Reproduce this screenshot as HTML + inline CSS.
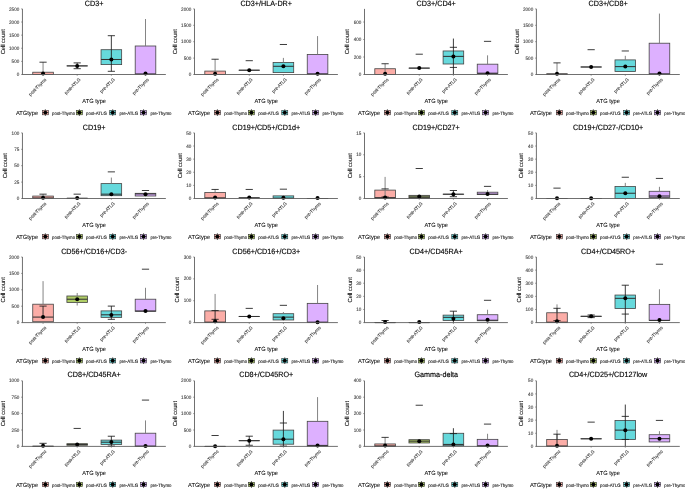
<!DOCTYPE html>
<html><head><meta charset="utf-8"><style>
html,body{margin:0;padding:0;background:#fff;width:685px;height:489px;overflow:hidden;}
svg{display:block;font-family:"Liberation Sans", sans-serif;will-change:transform;}
</style></head><body>
<svg width="685" height="489" viewBox="0 0 685 489" font-family='"Liberation Sans", sans-serif' text-rendering="geometricPrecision"><g><text transform="translate(94.15,5.55) scale(0.9434,1)" font-size="7.63" text-anchor="middle" fill="#000" stroke="#000" stroke-width="0.15">CD3+</text><text transform="translate(5.05,41.7) rotate(-90) scale(0.9615,1)" font-size="5.93" text-anchor="middle" fill="#000" stroke="#000" stroke-width="0.06">Cell count</text><text transform="translate(19.25,76.1) scale(0.9174,1)" font-size="5.01" text-anchor="end" fill="#3a3a3a" stroke="#3a3a3a" stroke-width="0.1">0</text><line x1="21.15" y1="74.5" x2="22.45" y2="74.5" stroke="#333" stroke-width="0.5"/><text transform="translate(19.25,62.98) scale(0.9174,1)" font-size="5.01" text-anchor="end" fill="#3a3a3a" stroke="#3a3a3a" stroke-width="0.1">500</text><line x1="21.15" y1="61.38" x2="22.45" y2="61.38" stroke="#333" stroke-width="0.5"/><text transform="translate(19.25,49.86) scale(0.9174,1)" font-size="5.01" text-anchor="end" fill="#3a3a3a" stroke="#3a3a3a" stroke-width="0.1">1000</text><line x1="21.15" y1="48.26" x2="22.45" y2="48.26" stroke="#333" stroke-width="0.5"/><text transform="translate(19.25,36.74) scale(0.9174,1)" font-size="5.01" text-anchor="end" fill="#3a3a3a" stroke="#3a3a3a" stroke-width="0.1">1500</text><line x1="21.15" y1="35.14" x2="22.45" y2="35.14" stroke="#333" stroke-width="0.5"/><text transform="translate(19.25,23.62) scale(0.9174,1)" font-size="5.01" text-anchor="end" fill="#3a3a3a" stroke="#3a3a3a" stroke-width="0.1">2000</text><line x1="21.15" y1="22.02" x2="22.45" y2="22.02" stroke="#333" stroke-width="0.5"/><text transform="translate(19.25,10.5) scale(0.9174,1)" font-size="5.01" text-anchor="end" fill="#3a3a3a" stroke="#3a3a3a" stroke-width="0.1">2500</text><line x1="21.15" y1="8.9" x2="22.45" y2="8.9" stroke="#333" stroke-width="0.5"/><rect x="32.75" y="72.22" width="20.6" height="2.28" fill="#FBADA7" stroke="#444" stroke-width="0.8"/><line x1="32.75" y1="74.5" x2="53.35" y2="74.5" stroke="#333" stroke-width="1.05"/><line x1="43.05" y1="73.61" x2="43.05" y2="62.19" stroke="#777" stroke-width="0.9"/><line x1="39.45" y1="62.19" x2="46.65" y2="62.19" stroke="#1a1a1a" stroke-width="0.85"/><circle cx="43.05" cy="73.61" r="2.0" fill="#000"/><line x1="43.05" y1="74.5" x2="43.05" y2="75.8" stroke="#333" stroke-width="0.5"/><text transform="translate(46.85,79.9) rotate(-45) scale(0.9259,1)" font-size="4.75" text-anchor="end" fill="#3a3a3a" stroke="#3a3a3a" stroke-width="0.1">post-Thymo</text><rect x="66.9" y="65.89" width="20.6" height="0.01" fill="#B0CE66" stroke="#444" stroke-width="0.8"/><line x1="66.9" y1="65.89" x2="87.5" y2="65.89" stroke="#333" stroke-width="1.05"/><line x1="77.2" y1="68.7" x2="77.2" y2="62.9" stroke="#1a1a1a" stroke-width="0.85"/><line x1="73.6" y1="62.9" x2="80.8" y2="62.9" stroke="#1a1a1a" stroke-width="0.85"/><line x1="73.6" y1="68.7" x2="80.8" y2="68.7" stroke="#1a1a1a" stroke-width="0.85"/><circle cx="77.2" cy="65.95" r="2.0" fill="#000"/><line x1="77.2" y1="74.5" x2="77.2" y2="75.8" stroke="#333" stroke-width="0.5"/><text transform="translate(81,79.9) rotate(-45) scale(0.9259,1)" font-size="4.75" text-anchor="end" fill="#3a3a3a" stroke="#3a3a3a" stroke-width="0.1">post-ATLG</text><rect x="101.05" y="49.7" width="20.6" height="14.9" fill="#66D9DC" stroke="#444" stroke-width="0.8"/><line x1="101.05" y1="59.49" x2="121.65" y2="59.49" stroke="#333" stroke-width="1.05"/><line x1="111.35" y1="71.3" x2="111.35" y2="35.69" stroke="#1a1a1a" stroke-width="0.85"/><line x1="107.75" y1="35.69" x2="114.95" y2="35.69" stroke="#1a1a1a" stroke-width="0.85"/><line x1="107.75" y1="71.3" x2="114.95" y2="71.3" stroke="#1a1a1a" stroke-width="0.85"/><circle cx="111.35" cy="59.49" r="2.0" fill="#000"/><line x1="111.35" y1="74.5" x2="111.35" y2="75.8" stroke="#333" stroke-width="0.5"/><text transform="translate(115.15,79.9) rotate(-45) scale(0.9259,1)" font-size="4.75" text-anchor="end" fill="#3a3a3a" stroke="#3a3a3a" stroke-width="0.1">pre-ATLG</text><rect x="135.2" y="46" width="20.6" height="28.29" fill="#DDB0FF" stroke="#444" stroke-width="0.8"/><line x1="135.2" y1="73.98" x2="155.8" y2="73.98" stroke="#333" stroke-width="1.05"/><line x1="145.5" y1="46" x2="145.5" y2="19" stroke="#777" stroke-width="0.9"/><circle cx="145.5" cy="73.5" r="2.0" fill="#000"/><line x1="145.5" y1="74.5" x2="145.5" y2="75.8" stroke="#333" stroke-width="0.5"/><text transform="translate(149.3,79.9) rotate(-45) scale(0.9259,1)" font-size="4.75" text-anchor="end" fill="#3a3a3a" stroke="#3a3a3a" stroke-width="0.1">pre-Thymo</text><line x1="22.45" y1="8.9" x2="22.45" y2="74.5" stroke="#606060" stroke-width="0.9"/><line x1="22" y1="74.5" x2="165.85" y2="74.5" stroke="#606060" stroke-width="0.9"/><text transform="translate(94.15,103.1) scale(0.9615,1)" font-size="5.93" text-anchor="middle" fill="#000" stroke="#000" stroke-width="0.06">ATG type</text><text transform="translate(16,114.6) scale(0.9615,1)" font-size="5.93" fill="#000" stroke="#000" stroke-width="0.06">ATGtype</text><line x1="45.35" y1="109.3" x2="45.35" y2="115.9" stroke="#222" stroke-width="0.8"/><rect x="42.35" y="110.4" width="6" height="4.4" fill="#FBADA7" stroke="#333" stroke-width="0.6"/><line x1="42.35" y1="112.6" x2="48.35" y2="112.6" stroke="#222" stroke-width="0.8"/><circle cx="45.35" cy="112.6" r="1.9" fill="#000"/><text transform="translate(52.1,114.6) scale(0.9091,1)" font-size="4.79" fill="#111" stroke="#111" stroke-width="0.1">post-Thymo</text><line x1="79.4" y1="109.3" x2="79.4" y2="115.9" stroke="#222" stroke-width="0.8"/><rect x="76.4" y="110.4" width="6" height="4.4" fill="#B0CE66" stroke="#333" stroke-width="0.6"/><line x1="76.4" y1="112.6" x2="82.4" y2="112.6" stroke="#222" stroke-width="0.8"/><circle cx="79.4" cy="112.6" r="1.9" fill="#000"/><text transform="translate(86.1,114.6) scale(0.9091,1)" font-size="4.79" fill="#111" stroke="#111" stroke-width="0.1">post-ATLG</text><line x1="112.7" y1="109.3" x2="112.7" y2="115.9" stroke="#222" stroke-width="0.8"/><rect x="109.7" y="110.4" width="6" height="4.4" fill="#66D9DC" stroke="#333" stroke-width="0.6"/><line x1="109.7" y1="112.6" x2="115.7" y2="112.6" stroke="#222" stroke-width="0.8"/><circle cx="112.7" cy="112.6" r="1.9" fill="#000"/><text transform="translate(119.4,114.6) scale(0.9091,1)" font-size="4.79" fill="#111" stroke="#111" stroke-width="0.1">pre-ATLG</text><line x1="143.55" y1="109.3" x2="143.55" y2="115.9" stroke="#222" stroke-width="0.8"/><rect x="140.55" y="110.4" width="6" height="4.4" fill="#DDB0FF" stroke="#333" stroke-width="0.6"/><line x1="140.55" y1="112.6" x2="146.55" y2="112.6" stroke="#222" stroke-width="0.8"/><circle cx="143.55" cy="112.6" r="1.9" fill="#000"/><text transform="translate(150.4,114.6) scale(0.9091,1)" font-size="4.79" fill="#111" stroke="#111" stroke-width="0.1">pre-Thymo</text></g>
<g><text transform="translate(266.2,5.55) scale(0.9434,1)" font-size="7.63" text-anchor="middle" fill="#000" stroke="#000" stroke-width="0.15">CD3+/HLA-DR+</text><text transform="translate(177.1,41.7) rotate(-90) scale(0.9615,1)" font-size="5.93" text-anchor="middle" fill="#000" stroke="#000" stroke-width="0.06">Cell count</text><text transform="translate(191.3,76.1) scale(0.9174,1)" font-size="5.01" text-anchor="end" fill="#3a3a3a" stroke="#3a3a3a" stroke-width="0.1">0</text><line x1="193.2" y1="74.5" x2="194.5" y2="74.5" stroke="#333" stroke-width="0.5"/><text transform="translate(191.3,59.7) scale(0.9174,1)" font-size="5.01" text-anchor="end" fill="#3a3a3a" stroke="#3a3a3a" stroke-width="0.1">500</text><line x1="193.2" y1="58.1" x2="194.5" y2="58.1" stroke="#333" stroke-width="0.5"/><text transform="translate(191.3,43.3) scale(0.9174,1)" font-size="5.01" text-anchor="end" fill="#3a3a3a" stroke="#3a3a3a" stroke-width="0.1">1000</text><line x1="193.2" y1="41.7" x2="194.5" y2="41.7" stroke="#333" stroke-width="0.5"/><text transform="translate(191.3,26.9) scale(0.9174,1)" font-size="5.01" text-anchor="end" fill="#3a3a3a" stroke="#3a3a3a" stroke-width="0.1">1500</text><line x1="193.2" y1="25.3" x2="194.5" y2="25.3" stroke="#333" stroke-width="0.5"/><text transform="translate(191.3,10.5) scale(0.9174,1)" font-size="5.01" text-anchor="end" fill="#3a3a3a" stroke="#3a3a3a" stroke-width="0.1">2000</text><line x1="193.2" y1="8.9" x2="194.5" y2="8.9" stroke="#333" stroke-width="0.5"/><rect x="204.8" y="71.09" width="20.6" height="3.41" fill="#FBADA7" stroke="#444" stroke-width="0.8"/><line x1="204.8" y1="74.5" x2="225.4" y2="74.5" stroke="#333" stroke-width="1.05"/><line x1="215.1" y1="73.71" x2="215.1" y2="59.22" stroke="#777" stroke-width="0.9"/><line x1="211.5" y1="59.22" x2="218.7" y2="59.22" stroke="#1a1a1a" stroke-width="0.85"/><circle cx="215.1" cy="73.71" r="2.0" fill="#000"/><line x1="215.1" y1="74.5" x2="215.1" y2="75.8" stroke="#333" stroke-width="0.5"/><text transform="translate(218.9,79.9) rotate(-45) scale(0.9259,1)" font-size="4.75" text-anchor="end" fill="#3a3a3a" stroke="#3a3a3a" stroke-width="0.1">post-Thymo</text><rect x="238.95" y="70.2" width="20.6" height="0.01" fill="#B0CE66" stroke="#444" stroke-width="0.8"/><line x1="238.95" y1="70.2" x2="259.55" y2="70.2" stroke="#333" stroke-width="1.05"/><line x1="245.65" y1="60.69" x2="252.85" y2="60.69" stroke="#1a1a1a" stroke-width="0.85"/><circle cx="249.25" cy="70.2" r="2.0" fill="#000"/><line x1="249.25" y1="74.5" x2="249.25" y2="75.8" stroke="#333" stroke-width="0.5"/><text transform="translate(253.05,79.9) rotate(-45) scale(0.9259,1)" font-size="4.75" text-anchor="end" fill="#3a3a3a" stroke="#3a3a3a" stroke-width="0.1">post-ATLG</text><rect x="273.1" y="62.5" width="20.6" height="10.1" fill="#66D9DC" stroke="#444" stroke-width="0.8"/><line x1="273.1" y1="66.3" x2="293.7" y2="66.3" stroke="#333" stroke-width="1.05"/><line x1="283.4" y1="62.5" x2="283.4" y2="57.9" stroke="#777" stroke-width="0.9"/><line x1="279.8" y1="44.49" x2="287" y2="44.49" stroke="#1a1a1a" stroke-width="0.85"/><circle cx="283.4" cy="66.3" r="2.0" fill="#000"/><line x1="283.4" y1="74.5" x2="283.4" y2="75.8" stroke="#333" stroke-width="0.5"/><text transform="translate(287.2,79.9) rotate(-45) scale(0.9259,1)" font-size="4.75" text-anchor="end" fill="#3a3a3a" stroke="#3a3a3a" stroke-width="0.1">pre-ATLG</text><rect x="307.25" y="54.49" width="20.6" height="19.84" fill="#DDB0FF" stroke="#444" stroke-width="0.8"/><line x1="307.25" y1="73.84" x2="327.85" y2="73.84" stroke="#333" stroke-width="1.05"/><line x1="317.55" y1="54.49" x2="317.55" y2="36.09" stroke="#777" stroke-width="0.9"/><circle cx="317.55" cy="73.71" r="2.0" fill="#000"/><line x1="317.55" y1="74.5" x2="317.55" y2="75.8" stroke="#333" stroke-width="0.5"/><text transform="translate(321.35,79.9) rotate(-45) scale(0.9259,1)" font-size="4.75" text-anchor="end" fill="#3a3a3a" stroke="#3a3a3a" stroke-width="0.1">pre-Thymo</text><line x1="194.5" y1="8.9" x2="194.5" y2="74.5" stroke="#606060" stroke-width="0.9"/><line x1="194.05" y1="74.5" x2="337.9" y2="74.5" stroke="#606060" stroke-width="0.9"/><text transform="translate(266.2,103.1) scale(0.9615,1)" font-size="5.93" text-anchor="middle" fill="#000" stroke="#000" stroke-width="0.06">ATG type</text><text transform="translate(188.05,114.6) scale(0.9615,1)" font-size="5.93" fill="#000" stroke="#000" stroke-width="0.06">ATGtype</text><line x1="217.4" y1="109.3" x2="217.4" y2="115.9" stroke="#222" stroke-width="0.8"/><rect x="214.4" y="110.4" width="6" height="4.4" fill="#FBADA7" stroke="#333" stroke-width="0.6"/><line x1="214.4" y1="112.6" x2="220.4" y2="112.6" stroke="#222" stroke-width="0.8"/><circle cx="217.4" cy="112.6" r="1.9" fill="#000"/><text transform="translate(224.15,114.6) scale(0.9091,1)" font-size="4.79" fill="#111" stroke="#111" stroke-width="0.1">post-Thymo</text><line x1="251.45" y1="109.3" x2="251.45" y2="115.9" stroke="#222" stroke-width="0.8"/><rect x="248.45" y="110.4" width="6" height="4.4" fill="#B0CE66" stroke="#333" stroke-width="0.6"/><line x1="248.45" y1="112.6" x2="254.45" y2="112.6" stroke="#222" stroke-width="0.8"/><circle cx="251.45" cy="112.6" r="1.9" fill="#000"/><text transform="translate(258.15,114.6) scale(0.9091,1)" font-size="4.79" fill="#111" stroke="#111" stroke-width="0.1">post-ATLG</text><line x1="284.75" y1="109.3" x2="284.75" y2="115.9" stroke="#222" stroke-width="0.8"/><rect x="281.75" y="110.4" width="6" height="4.4" fill="#66D9DC" stroke="#333" stroke-width="0.6"/><line x1="281.75" y1="112.6" x2="287.75" y2="112.6" stroke="#222" stroke-width="0.8"/><circle cx="284.75" cy="112.6" r="1.9" fill="#000"/><text transform="translate(291.45,114.6) scale(0.9091,1)" font-size="4.79" fill="#111" stroke="#111" stroke-width="0.1">pre-ATLG</text><line x1="315.6" y1="109.3" x2="315.6" y2="115.9" stroke="#222" stroke-width="0.8"/><rect x="312.6" y="110.4" width="6" height="4.4" fill="#DDB0FF" stroke="#333" stroke-width="0.6"/><line x1="312.6" y1="112.6" x2="318.6" y2="112.6" stroke="#222" stroke-width="0.8"/><circle cx="315.6" cy="112.6" r="1.9" fill="#000"/><text transform="translate(322.45,114.6) scale(0.9091,1)" font-size="4.79" fill="#111" stroke="#111" stroke-width="0.1">pre-Thymo</text></g>
<g><text transform="translate(436.2,5.55) scale(0.9434,1)" font-size="7.63" text-anchor="middle" fill="#000" stroke="#000" stroke-width="0.15">CD3+/CD4+</text><text transform="translate(349.3,41.7) rotate(-90) scale(0.9615,1)" font-size="5.93" text-anchor="middle" fill="#000" stroke="#000" stroke-width="0.06">Cell count</text><text transform="translate(361.3,76.1) scale(0.9174,1)" font-size="5.01" text-anchor="end" fill="#3a3a3a" stroke="#3a3a3a" stroke-width="0.1">0</text><line x1="363.2" y1="74.5" x2="364.5" y2="74.5" stroke="#333" stroke-width="0.5"/><text transform="translate(361.3,58.61) scale(0.9174,1)" font-size="5.01" text-anchor="end" fill="#3a3a3a" stroke="#3a3a3a" stroke-width="0.1">200</text><line x1="363.2" y1="57.01" x2="364.5" y2="57.01" stroke="#333" stroke-width="0.5"/><text transform="translate(361.3,41.11) scale(0.9174,1)" font-size="5.01" text-anchor="end" fill="#3a3a3a" stroke="#3a3a3a" stroke-width="0.1">400</text><line x1="363.2" y1="39.51" x2="364.5" y2="39.51" stroke="#333" stroke-width="0.5"/><text transform="translate(361.3,23.62) scale(0.9174,1)" font-size="5.01" text-anchor="end" fill="#3a3a3a" stroke="#3a3a3a" stroke-width="0.1">600</text><line x1="363.2" y1="22.02" x2="364.5" y2="22.02" stroke="#333" stroke-width="0.5"/><rect x="374.8" y="68.73" width="20.6" height="5.77" fill="#FBADA7" stroke="#444" stroke-width="0.8"/><line x1="374.8" y1="74.5" x2="395.4" y2="74.5" stroke="#333" stroke-width="1.05"/><line x1="385.1" y1="73.71" x2="385.1" y2="63.74" stroke="#777" stroke-width="0.9"/><line x1="381.5" y1="63.74" x2="388.7" y2="63.74" stroke="#1a1a1a" stroke-width="0.85"/><circle cx="385.1" cy="73.71" r="2.0" fill="#000"/><line x1="385.1" y1="74.5" x2="385.1" y2="75.8" stroke="#333" stroke-width="0.5"/><text transform="translate(388.9,79.9) rotate(-45) scale(0.9259,1)" font-size="4.75" text-anchor="end" fill="#3a3a3a" stroke="#3a3a3a" stroke-width="0.1">post-Thymo</text><rect x="408.95" y="68.11" width="20.6" height="0.01" fill="#B0CE66" stroke="#444" stroke-width="0.8"/><line x1="408.95" y1="68.11" x2="429.55" y2="68.11" stroke="#333" stroke-width="1.05"/><line x1="415.65" y1="54.21" x2="422.85" y2="54.21" stroke="#1a1a1a" stroke-width="0.85"/><circle cx="419.25" cy="68.11" r="2.0" fill="#000"/><line x1="419.25" y1="74.5" x2="419.25" y2="75.8" stroke="#333" stroke-width="0.5"/><text transform="translate(423.05,79.9) rotate(-45) scale(0.9259,1)" font-size="4.75" text-anchor="end" fill="#3a3a3a" stroke="#3a3a3a" stroke-width="0.1">post-ATLG</text><rect x="443.1" y="50.97" width="20.6" height="13.03" fill="#66D9DC" stroke="#444" stroke-width="0.8"/><line x1="443.1" y1="56.39" x2="463.7" y2="56.39" stroke="#333" stroke-width="1.05"/><line x1="453.4" y1="74.5" x2="453.4" y2="38.55" stroke="#1a1a1a" stroke-width="0.85"/><line x1="449.8" y1="47.3" x2="457" y2="47.3" stroke="#1a1a1a" stroke-width="0.85"/><line x1="449.8" y1="67.42" x2="457" y2="67.42" stroke="#1a1a1a" stroke-width="0.85"/><circle cx="453.4" cy="56.39" r="2.0" fill="#000"/><line x1="453.4" y1="74.5" x2="453.4" y2="75.8" stroke="#333" stroke-width="0.5"/><text transform="translate(457.2,79.9) rotate(-45) scale(0.9259,1)" font-size="4.75" text-anchor="end" fill="#3a3a3a" stroke="#3a3a3a" stroke-width="0.1">pre-ATLG</text><rect x="477.25" y="64.18" width="20.6" height="9.27" fill="#DDB0FF" stroke="#444" stroke-width="0.8"/><line x1="477.25" y1="73.19" x2="497.85" y2="73.19" stroke="#333" stroke-width="1.05"/><line x1="487.55" y1="64.18" x2="487.55" y2="55.34" stroke="#777" stroke-width="0.9"/><line x1="483.95" y1="41.35" x2="491.15" y2="41.35" stroke="#1a1a1a" stroke-width="0.85"/><circle cx="487.55" cy="73.19" r="2.0" fill="#000"/><line x1="487.55" y1="74.5" x2="487.55" y2="75.8" stroke="#333" stroke-width="0.5"/><text transform="translate(491.35,79.9) rotate(-45) scale(0.9259,1)" font-size="4.75" text-anchor="end" fill="#3a3a3a" stroke="#3a3a3a" stroke-width="0.1">pre-Thymo</text><line x1="364.5" y1="8.9" x2="364.5" y2="74.5" stroke="#606060" stroke-width="0.9"/><line x1="364.05" y1="74.5" x2="507.9" y2="74.5" stroke="#606060" stroke-width="0.9"/><text transform="translate(436.2,103.1) scale(0.9615,1)" font-size="5.93" text-anchor="middle" fill="#000" stroke="#000" stroke-width="0.06">ATG type</text><text transform="translate(358.05,114.6) scale(0.9615,1)" font-size="5.93" fill="#000" stroke="#000" stroke-width="0.06">ATGtype</text><line x1="387.4" y1="109.3" x2="387.4" y2="115.9" stroke="#222" stroke-width="0.8"/><rect x="384.4" y="110.4" width="6" height="4.4" fill="#FBADA7" stroke="#333" stroke-width="0.6"/><line x1="384.4" y1="112.6" x2="390.4" y2="112.6" stroke="#222" stroke-width="0.8"/><circle cx="387.4" cy="112.6" r="1.9" fill="#000"/><text transform="translate(394.15,114.6) scale(0.9091,1)" font-size="4.79" fill="#111" stroke="#111" stroke-width="0.1">post-Thymo</text><line x1="421.45" y1="109.3" x2="421.45" y2="115.9" stroke="#222" stroke-width="0.8"/><rect x="418.45" y="110.4" width="6" height="4.4" fill="#B0CE66" stroke="#333" stroke-width="0.6"/><line x1="418.45" y1="112.6" x2="424.45" y2="112.6" stroke="#222" stroke-width="0.8"/><circle cx="421.45" cy="112.6" r="1.9" fill="#000"/><text transform="translate(428.15,114.6) scale(0.9091,1)" font-size="4.79" fill="#111" stroke="#111" stroke-width="0.1">post-ATLG</text><line x1="454.75" y1="109.3" x2="454.75" y2="115.9" stroke="#222" stroke-width="0.8"/><rect x="451.75" y="110.4" width="6" height="4.4" fill="#66D9DC" stroke="#333" stroke-width="0.6"/><line x1="451.75" y1="112.6" x2="457.75" y2="112.6" stroke="#222" stroke-width="0.8"/><circle cx="454.75" cy="112.6" r="1.9" fill="#000"/><text transform="translate(461.45,114.6) scale(0.9091,1)" font-size="4.79" fill="#111" stroke="#111" stroke-width="0.1">pre-ATLG</text><line x1="485.6" y1="109.3" x2="485.6" y2="115.9" stroke="#222" stroke-width="0.8"/><rect x="482.6" y="110.4" width="6" height="4.4" fill="#DDB0FF" stroke="#333" stroke-width="0.6"/><line x1="482.6" y1="112.6" x2="488.6" y2="112.6" stroke="#222" stroke-width="0.8"/><circle cx="485.6" cy="112.6" r="1.9" fill="#000"/><text transform="translate(492.45,114.6) scale(0.9091,1)" font-size="4.79" fill="#111" stroke="#111" stroke-width="0.1">pre-Thymo</text></g>
<g><text transform="translate(608.1,5.55) scale(0.9434,1)" font-size="7.63" text-anchor="middle" fill="#000" stroke="#000" stroke-width="0.15">CD3+/CD8+</text><text transform="translate(519,41.7) rotate(-90) scale(0.9615,1)" font-size="5.93" text-anchor="middle" fill="#000" stroke="#000" stroke-width="0.06">Cell count</text><text transform="translate(533.2,76.1) scale(0.9174,1)" font-size="5.01" text-anchor="end" fill="#3a3a3a" stroke="#3a3a3a" stroke-width="0.1">0</text><line x1="535.1" y1="74.5" x2="536.4" y2="74.5" stroke="#333" stroke-width="0.5"/><text transform="translate(533.2,59.7) scale(0.9174,1)" font-size="5.01" text-anchor="end" fill="#3a3a3a" stroke="#3a3a3a" stroke-width="0.1">500</text><line x1="535.1" y1="58.1" x2="536.4" y2="58.1" stroke="#333" stroke-width="0.5"/><text transform="translate(533.2,43.3) scale(0.9174,1)" font-size="5.01" text-anchor="end" fill="#3a3a3a" stroke="#3a3a3a" stroke-width="0.1">1000</text><line x1="535.1" y1="41.7" x2="536.4" y2="41.7" stroke="#333" stroke-width="0.5"/><text transform="translate(533.2,26.9) scale(0.9174,1)" font-size="5.01" text-anchor="end" fill="#3a3a3a" stroke="#3a3a3a" stroke-width="0.1">1500</text><line x1="535.1" y1="25.3" x2="536.4" y2="25.3" stroke="#333" stroke-width="0.5"/><text transform="translate(533.2,10.5) scale(0.9174,1)" font-size="5.01" text-anchor="end" fill="#3a3a3a" stroke="#3a3a3a" stroke-width="0.1">2000</text><line x1="535.1" y1="8.9" x2="536.4" y2="8.9" stroke="#333" stroke-width="0.5"/><rect x="546.7" y="73.84" width="20.6" height="0.66" fill="#FBADA7" stroke="#444" stroke-width="0.8"/><line x1="546.7" y1="74.17" x2="567.3" y2="74.17" stroke="#333" stroke-width="1.05"/><line x1="557" y1="73.84" x2="557" y2="62.89" stroke="#777" stroke-width="0.9"/><line x1="553.4" y1="62.89" x2="560.6" y2="62.89" stroke="#1a1a1a" stroke-width="0.85"/><circle cx="557" cy="73.84" r="2.0" fill="#000"/><line x1="557" y1="74.5" x2="557" y2="75.8" stroke="#333" stroke-width="0.5"/><text transform="translate(560.8,79.9) rotate(-45) scale(0.9259,1)" font-size="4.75" text-anchor="end" fill="#3a3a3a" stroke="#3a3a3a" stroke-width="0.1">post-Thymo</text><rect x="580.85" y="66.99" width="20.6" height="0.01" fill="#B0CE66" stroke="#444" stroke-width="0.8"/><line x1="580.85" y1="66.99" x2="601.45" y2="66.99" stroke="#333" stroke-width="1.05"/><line x1="587.55" y1="49.7" x2="594.75" y2="49.7" stroke="#1a1a1a" stroke-width="0.85"/><circle cx="591.15" cy="66.99" r="2.0" fill="#000"/><line x1="591.15" y1="74.5" x2="591.15" y2="75.8" stroke="#333" stroke-width="0.5"/><text transform="translate(594.95,79.9) rotate(-45) scale(0.9259,1)" font-size="4.75" text-anchor="end" fill="#3a3a3a" stroke="#3a3a3a" stroke-width="0.1">post-ATLG</text><rect x="615" y="59.9" width="20.6" height="11.61" fill="#66D9DC" stroke="#444" stroke-width="0.8"/><line x1="615" y1="66.6" x2="635.6" y2="66.6" stroke="#333" stroke-width="1.05"/><line x1="625.3" y1="59.9" x2="625.3" y2="55.8" stroke="#777" stroke-width="0.9"/><line x1="621.7" y1="50.98" x2="628.9" y2="50.98" stroke="#1a1a1a" stroke-width="0.85"/><circle cx="625.3" cy="66.6" r="2.0" fill="#000"/><line x1="625.3" y1="74.5" x2="625.3" y2="75.8" stroke="#333" stroke-width="0.5"/><text transform="translate(629.1,79.9) rotate(-45) scale(0.9259,1)" font-size="4.75" text-anchor="end" fill="#3a3a3a" stroke="#3a3a3a" stroke-width="0.1">pre-ATLG</text><rect x="649.15" y="43.21" width="20.6" height="31.13" fill="#DDB0FF" stroke="#444" stroke-width="0.8"/><line x1="649.15" y1="73.84" x2="669.75" y2="73.84" stroke="#333" stroke-width="1.05"/><line x1="659.45" y1="43.21" x2="659.45" y2="13.59" stroke="#777" stroke-width="0.9"/><circle cx="659.45" cy="73.52" r="2.0" fill="#000"/><line x1="659.45" y1="74.5" x2="659.45" y2="75.8" stroke="#333" stroke-width="0.5"/><text transform="translate(663.25,79.9) rotate(-45) scale(0.9259,1)" font-size="4.75" text-anchor="end" fill="#3a3a3a" stroke="#3a3a3a" stroke-width="0.1">pre-Thymo</text><line x1="536.4" y1="8.9" x2="536.4" y2="74.5" stroke="#606060" stroke-width="0.9"/><line x1="535.95" y1="74.5" x2="679.8" y2="74.5" stroke="#606060" stroke-width="0.9"/><text transform="translate(608.1,103.1) scale(0.9615,1)" font-size="5.93" text-anchor="middle" fill="#000" stroke="#000" stroke-width="0.06">ATG type</text><text transform="translate(529.95,114.6) scale(0.9615,1)" font-size="5.93" fill="#000" stroke="#000" stroke-width="0.06">ATGtype</text><line x1="559.3" y1="109.3" x2="559.3" y2="115.9" stroke="#222" stroke-width="0.8"/><rect x="556.3" y="110.4" width="6" height="4.4" fill="#FBADA7" stroke="#333" stroke-width="0.6"/><line x1="556.3" y1="112.6" x2="562.3" y2="112.6" stroke="#222" stroke-width="0.8"/><circle cx="559.3" cy="112.6" r="1.9" fill="#000"/><text transform="translate(566.05,114.6) scale(0.9091,1)" font-size="4.79" fill="#111" stroke="#111" stroke-width="0.1">post-Thymo</text><line x1="593.35" y1="109.3" x2="593.35" y2="115.9" stroke="#222" stroke-width="0.8"/><rect x="590.35" y="110.4" width="6" height="4.4" fill="#B0CE66" stroke="#333" stroke-width="0.6"/><line x1="590.35" y1="112.6" x2="596.35" y2="112.6" stroke="#222" stroke-width="0.8"/><circle cx="593.35" cy="112.6" r="1.9" fill="#000"/><text transform="translate(600.05,114.6) scale(0.9091,1)" font-size="4.79" fill="#111" stroke="#111" stroke-width="0.1">post-ATLG</text><line x1="626.65" y1="109.3" x2="626.65" y2="115.9" stroke="#222" stroke-width="0.8"/><rect x="623.65" y="110.4" width="6" height="4.4" fill="#66D9DC" stroke="#333" stroke-width="0.6"/><line x1="623.65" y1="112.6" x2="629.65" y2="112.6" stroke="#222" stroke-width="0.8"/><circle cx="626.65" cy="112.6" r="1.9" fill="#000"/><text transform="translate(633.35,114.6) scale(0.9091,1)" font-size="4.79" fill="#111" stroke="#111" stroke-width="0.1">pre-ATLG</text><line x1="657.5" y1="109.3" x2="657.5" y2="115.9" stroke="#222" stroke-width="0.8"/><rect x="654.5" y="110.4" width="6" height="4.4" fill="#DDB0FF" stroke="#333" stroke-width="0.6"/><line x1="654.5" y1="112.6" x2="660.5" y2="112.6" stroke="#222" stroke-width="0.8"/><circle cx="657.5" cy="112.6" r="1.9" fill="#000"/><text transform="translate(664.35,114.6) scale(0.9091,1)" font-size="4.79" fill="#111" stroke="#111" stroke-width="0.1">pre-Thymo</text></g>
<g><text transform="translate(94.15,129.55) scale(0.9434,1)" font-size="7.63" text-anchor="middle" fill="#000" stroke="#000" stroke-width="0.15">CD19+</text><text transform="translate(7.25,165.7) rotate(-90) scale(0.9615,1)" font-size="5.93" text-anchor="middle" fill="#000" stroke="#000" stroke-width="0.06">Cell count</text><text transform="translate(19.25,200.1) scale(0.9174,1)" font-size="5.01" text-anchor="end" fill="#3a3a3a" stroke="#3a3a3a" stroke-width="0.1">0</text><line x1="21.15" y1="198.5" x2="22.45" y2="198.5" stroke="#333" stroke-width="0.5"/><text transform="translate(19.25,183.7) scale(0.9174,1)" font-size="5.01" text-anchor="end" fill="#3a3a3a" stroke="#3a3a3a" stroke-width="0.1">25</text><line x1="21.15" y1="182.1" x2="22.45" y2="182.1" stroke="#333" stroke-width="0.5"/><text transform="translate(19.25,167.3) scale(0.9174,1)" font-size="5.01" text-anchor="end" fill="#3a3a3a" stroke="#3a3a3a" stroke-width="0.1">50</text><line x1="21.15" y1="165.7" x2="22.45" y2="165.7" stroke="#333" stroke-width="0.5"/><text transform="translate(19.25,150.9) scale(0.9174,1)" font-size="5.01" text-anchor="end" fill="#3a3a3a" stroke="#3a3a3a" stroke-width="0.1">75</text><line x1="21.15" y1="149.3" x2="22.45" y2="149.3" stroke="#333" stroke-width="0.5"/><text transform="translate(19.25,134.5) scale(0.9174,1)" font-size="5.01" text-anchor="end" fill="#3a3a3a" stroke="#3a3a3a" stroke-width="0.1">100</text><line x1="21.15" y1="132.9" x2="22.45" y2="132.9" stroke="#333" stroke-width="0.5"/><rect x="32.75" y="196.07" width="20.6" height="2.43" fill="#FBADA7" stroke="#444" stroke-width="0.8"/><line x1="32.75" y1="197.98" x2="53.35" y2="197.98" stroke="#333" stroke-width="1.05"/><line x1="43.05" y1="196.07" x2="43.05" y2="194.17" stroke="#777" stroke-width="0.9"/><line x1="39.45" y1="194.17" x2="46.65" y2="194.17" stroke="#1a1a1a" stroke-width="0.85"/><circle cx="43.05" cy="197.78" r="2.0" fill="#000"/><line x1="43.05" y1="198.5" x2="43.05" y2="199.8" stroke="#333" stroke-width="0.5"/><text transform="translate(46.85,203.9) rotate(-45) scale(0.9259,1)" font-size="4.75" text-anchor="end" fill="#3a3a3a" stroke="#3a3a3a" stroke-width="0.1">post-Thymo</text><rect x="66.9" y="198.3" width="20.6" height="0.01" fill="#B0CE66" stroke="#444" stroke-width="0.8"/><line x1="66.9" y1="198.3" x2="87.5" y2="198.3" stroke="#333" stroke-width="1.05"/><line x1="73.6" y1="194.17" x2="80.8" y2="194.17" stroke="#1a1a1a" stroke-width="0.85"/><circle cx="77.2" cy="197.98" r="2.0" fill="#000"/><line x1="77.2" y1="198.5" x2="77.2" y2="199.8" stroke="#333" stroke-width="0.5"/><text transform="translate(81,203.9) rotate(-45) scale(0.9259,1)" font-size="4.75" text-anchor="end" fill="#3a3a3a" stroke="#3a3a3a" stroke-width="0.1">post-ATLG</text><rect x="101.05" y="183.61" width="20.6" height="12.07" fill="#66D9DC" stroke="#444" stroke-width="0.8"/><line x1="101.05" y1="194.17" x2="121.65" y2="194.17" stroke="#333" stroke-width="1.05"/><line x1="111.35" y1="183.61" x2="111.35" y2="177.57" stroke="#777" stroke-width="0.9"/><line x1="107.75" y1="171.87" x2="114.95" y2="171.87" stroke="#1a1a1a" stroke-width="0.85"/><circle cx="111.35" cy="194.3" r="2.0" fill="#000"/><line x1="111.35" y1="198.5" x2="111.35" y2="199.8" stroke="#333" stroke-width="0.5"/><text transform="translate(115.15,203.9) rotate(-45) scale(0.9259,1)" font-size="4.75" text-anchor="end" fill="#3a3a3a" stroke="#3a3a3a" stroke-width="0.1">pre-ATLG</text><rect x="135.2" y="193.32" width="20.6" height="2.69" fill="#DDB0FF" stroke="#444" stroke-width="0.8"/><line x1="135.2" y1="193.91" x2="155.8" y2="193.91" stroke="#333" stroke-width="1.05"/><line x1="141.9" y1="190.5" x2="149.1" y2="190.5" stroke="#1a1a1a" stroke-width="0.85"/><circle cx="145.5" cy="194.17" r="2.0" fill="#000"/><line x1="145.5" y1="198.5" x2="145.5" y2="199.8" stroke="#333" stroke-width="0.5"/><text transform="translate(149.3,203.9) rotate(-45) scale(0.9259,1)" font-size="4.75" text-anchor="end" fill="#3a3a3a" stroke="#3a3a3a" stroke-width="0.1">pre-Thymo</text><line x1="22.45" y1="132.9" x2="22.45" y2="198.5" stroke="#606060" stroke-width="0.9"/><line x1="22" y1="198.5" x2="165.85" y2="198.5" stroke="#606060" stroke-width="0.9"/><text transform="translate(94.15,227.1) scale(0.9615,1)" font-size="5.93" text-anchor="middle" fill="#000" stroke="#000" stroke-width="0.06">ATG type</text><text transform="translate(16,238.6) scale(0.9615,1)" font-size="5.93" fill="#000" stroke="#000" stroke-width="0.06">ATGtype</text><line x1="45.35" y1="233.3" x2="45.35" y2="239.9" stroke="#222" stroke-width="0.8"/><rect x="42.35" y="234.4" width="6" height="4.4" fill="#FBADA7" stroke="#333" stroke-width="0.6"/><line x1="42.35" y1="236.6" x2="48.35" y2="236.6" stroke="#222" stroke-width="0.8"/><circle cx="45.35" cy="236.6" r="1.9" fill="#000"/><text transform="translate(52.1,238.6) scale(0.9091,1)" font-size="4.79" fill="#111" stroke="#111" stroke-width="0.1">post-Thymo</text><line x1="79.4" y1="233.3" x2="79.4" y2="239.9" stroke="#222" stroke-width="0.8"/><rect x="76.4" y="234.4" width="6" height="4.4" fill="#B0CE66" stroke="#333" stroke-width="0.6"/><line x1="76.4" y1="236.6" x2="82.4" y2="236.6" stroke="#222" stroke-width="0.8"/><circle cx="79.4" cy="236.6" r="1.9" fill="#000"/><text transform="translate(86.1,238.6) scale(0.9091,1)" font-size="4.79" fill="#111" stroke="#111" stroke-width="0.1">post-ATLG</text><line x1="112.7" y1="233.3" x2="112.7" y2="239.9" stroke="#222" stroke-width="0.8"/><rect x="109.7" y="234.4" width="6" height="4.4" fill="#66D9DC" stroke="#333" stroke-width="0.6"/><line x1="109.7" y1="236.6" x2="115.7" y2="236.6" stroke="#222" stroke-width="0.8"/><circle cx="112.7" cy="236.6" r="1.9" fill="#000"/><text transform="translate(119.4,238.6) scale(0.9091,1)" font-size="4.79" fill="#111" stroke="#111" stroke-width="0.1">pre-ATLG</text><line x1="143.55" y1="233.3" x2="143.55" y2="239.9" stroke="#222" stroke-width="0.8"/><rect x="140.55" y="234.4" width="6" height="4.4" fill="#DDB0FF" stroke="#333" stroke-width="0.6"/><line x1="140.55" y1="236.6" x2="146.55" y2="236.6" stroke="#222" stroke-width="0.8"/><circle cx="143.55" cy="236.6" r="1.9" fill="#000"/><text transform="translate(150.4,238.6) scale(0.9091,1)" font-size="4.79" fill="#111" stroke="#111" stroke-width="0.1">pre-Thymo</text></g>
<g><text transform="translate(266.2,129.55) scale(0.9434,1)" font-size="7.63" text-anchor="middle" fill="#000" stroke="#000" stroke-width="0.15">CD19+/CD5+/CD1d+</text><text transform="translate(181.5,165.7) rotate(-90) scale(0.9615,1)" font-size="5.93" text-anchor="middle" fill="#000" stroke="#000" stroke-width="0.06">Cell count</text><text transform="translate(191.3,200.1) scale(0.9174,1)" font-size="5.01" text-anchor="end" fill="#3a3a3a" stroke="#3a3a3a" stroke-width="0.1">0</text><line x1="193.2" y1="198.5" x2="194.5" y2="198.5" stroke="#333" stroke-width="0.5"/><text transform="translate(191.3,186.98) scale(0.9174,1)" font-size="5.01" text-anchor="end" fill="#3a3a3a" stroke="#3a3a3a" stroke-width="0.1">10</text><line x1="193.2" y1="185.38" x2="194.5" y2="185.38" stroke="#333" stroke-width="0.5"/><text transform="translate(191.3,173.86) scale(0.9174,1)" font-size="5.01" text-anchor="end" fill="#3a3a3a" stroke="#3a3a3a" stroke-width="0.1">20</text><line x1="193.2" y1="172.26" x2="194.5" y2="172.26" stroke="#333" stroke-width="0.5"/><text transform="translate(191.3,160.74) scale(0.9174,1)" font-size="5.01" text-anchor="end" fill="#3a3a3a" stroke="#3a3a3a" stroke-width="0.1">30</text><line x1="193.2" y1="159.14" x2="194.5" y2="159.14" stroke="#333" stroke-width="0.5"/><text transform="translate(191.3,147.62) scale(0.9174,1)" font-size="5.01" text-anchor="end" fill="#3a3a3a" stroke="#3a3a3a" stroke-width="0.1">40</text><line x1="193.2" y1="146.02" x2="194.5" y2="146.02" stroke="#333" stroke-width="0.5"/><text transform="translate(191.3,134.5) scale(0.9174,1)" font-size="5.01" text-anchor="end" fill="#3a3a3a" stroke="#3a3a3a" stroke-width="0.1">50</text><line x1="193.2" y1="132.9" x2="194.5" y2="132.9" stroke="#333" stroke-width="0.5"/><rect x="204.8" y="192.46" width="20.6" height="6.04" fill="#FBADA7" stroke="#444" stroke-width="0.8"/><line x1="204.8" y1="197.84" x2="225.4" y2="197.84" stroke="#333" stroke-width="1.05"/><line x1="215.1" y1="192.46" x2="215.1" y2="189.45" stroke="#777" stroke-width="0.9"/><line x1="211.5" y1="189.45" x2="218.7" y2="189.45" stroke="#1a1a1a" stroke-width="0.85"/><circle cx="215.1" cy="197.45" r="2.0" fill="#000"/><line x1="215.1" y1="198.5" x2="215.1" y2="199.8" stroke="#333" stroke-width="0.5"/><text transform="translate(218.9,203.9) rotate(-45) scale(0.9259,1)" font-size="4.75" text-anchor="end" fill="#3a3a3a" stroke="#3a3a3a" stroke-width="0.1">post-Thymo</text><rect x="238.95" y="197.84" width="20.6" height="0.01" fill="#B0CE66" stroke="#444" stroke-width="0.8"/><line x1="238.95" y1="197.84" x2="259.55" y2="197.84" stroke="#333" stroke-width="1.05"/><line x1="245.65" y1="189.45" x2="252.85" y2="189.45" stroke="#1a1a1a" stroke-width="0.85"/><circle cx="249.25" cy="197.45" r="2.0" fill="#000"/><line x1="249.25" y1="198.5" x2="249.25" y2="199.8" stroke="#333" stroke-width="0.5"/><text transform="translate(253.05,203.9) rotate(-45) scale(0.9259,1)" font-size="4.75" text-anchor="end" fill="#3a3a3a" stroke="#3a3a3a" stroke-width="0.1">post-ATLG</text><rect x="273.1" y="195.88" width="20.6" height="2.62" fill="#66D9DC" stroke="#444" stroke-width="0.8"/><line x1="273.1" y1="198.11" x2="293.7" y2="198.11" stroke="#333" stroke-width="1.05"/><line x1="279.8" y1="189.18" x2="287" y2="189.18" stroke="#1a1a1a" stroke-width="0.85"/><circle cx="283.4" cy="197.84" r="2.0" fill="#000"/><line x1="283.4" y1="198.5" x2="283.4" y2="199.8" stroke="#333" stroke-width="0.5"/><text transform="translate(287.2,203.9) rotate(-45) scale(0.9259,1)" font-size="4.75" text-anchor="end" fill="#3a3a3a" stroke="#3a3a3a" stroke-width="0.1">pre-ATLG</text><rect x="307.25" y="198.5" width="20.6" height="0.01" fill="#DDB0FF" stroke="#444" stroke-width="0.8"/><line x1="307.25" y1="198.5" x2="327.85" y2="198.5" stroke="#333" stroke-width="1.05"/><circle cx="317.55" cy="197.98" r="2.0" fill="#000"/><line x1="317.55" y1="198.5" x2="317.55" y2="199.8" stroke="#333" stroke-width="0.5"/><text transform="translate(321.35,203.9) rotate(-45) scale(0.9259,1)" font-size="4.75" text-anchor="end" fill="#3a3a3a" stroke="#3a3a3a" stroke-width="0.1">pre-Thymo</text><line x1="194.5" y1="132.9" x2="194.5" y2="198.5" stroke="#606060" stroke-width="0.9"/><line x1="194.05" y1="198.5" x2="337.9" y2="198.5" stroke="#606060" stroke-width="0.9"/><text transform="translate(266.2,227.1) scale(0.9615,1)" font-size="5.93" text-anchor="middle" fill="#000" stroke="#000" stroke-width="0.06">ATG type</text><text transform="translate(188.05,238.6) scale(0.9615,1)" font-size="5.93" fill="#000" stroke="#000" stroke-width="0.06">ATGtype</text><line x1="217.4" y1="233.3" x2="217.4" y2="239.9" stroke="#222" stroke-width="0.8"/><rect x="214.4" y="234.4" width="6" height="4.4" fill="#FBADA7" stroke="#333" stroke-width="0.6"/><line x1="214.4" y1="236.6" x2="220.4" y2="236.6" stroke="#222" stroke-width="0.8"/><circle cx="217.4" cy="236.6" r="1.9" fill="#000"/><text transform="translate(224.15,238.6) scale(0.9091,1)" font-size="4.79" fill="#111" stroke="#111" stroke-width="0.1">post-Thymo</text><line x1="251.45" y1="233.3" x2="251.45" y2="239.9" stroke="#222" stroke-width="0.8"/><rect x="248.45" y="234.4" width="6" height="4.4" fill="#B0CE66" stroke="#333" stroke-width="0.6"/><line x1="248.45" y1="236.6" x2="254.45" y2="236.6" stroke="#222" stroke-width="0.8"/><circle cx="251.45" cy="236.6" r="1.9" fill="#000"/><text transform="translate(258.15,238.6) scale(0.9091,1)" font-size="4.79" fill="#111" stroke="#111" stroke-width="0.1">post-ATLG</text><line x1="284.75" y1="233.3" x2="284.75" y2="239.9" stroke="#222" stroke-width="0.8"/><rect x="281.75" y="234.4" width="6" height="4.4" fill="#66D9DC" stroke="#333" stroke-width="0.6"/><line x1="281.75" y1="236.6" x2="287.75" y2="236.6" stroke="#222" stroke-width="0.8"/><circle cx="284.75" cy="236.6" r="1.9" fill="#000"/><text transform="translate(291.45,238.6) scale(0.9091,1)" font-size="4.79" fill="#111" stroke="#111" stroke-width="0.1">pre-ATLG</text><line x1="315.6" y1="233.3" x2="315.6" y2="239.9" stroke="#222" stroke-width="0.8"/><rect x="312.6" y="234.4" width="6" height="4.4" fill="#DDB0FF" stroke="#333" stroke-width="0.6"/><line x1="312.6" y1="236.6" x2="318.6" y2="236.6" stroke="#222" stroke-width="0.8"/><circle cx="315.6" cy="236.6" r="1.9" fill="#000"/><text transform="translate(322.45,238.6) scale(0.9091,1)" font-size="4.79" fill="#111" stroke="#111" stroke-width="0.1">pre-Thymo</text></g>
<g><text transform="translate(436.2,129.55) scale(0.9434,1)" font-size="7.63" text-anchor="middle" fill="#000" stroke="#000" stroke-width="0.15">CD19+/CD27+</text><text transform="translate(351.5,165.7) rotate(-90) scale(0.9615,1)" font-size="5.93" text-anchor="middle" fill="#000" stroke="#000" stroke-width="0.06">Cell count</text><text transform="translate(361.3,200.1) scale(0.9174,1)" font-size="5.01" text-anchor="end" fill="#3a3a3a" stroke="#3a3a3a" stroke-width="0.1">0</text><line x1="363.2" y1="198.5" x2="364.5" y2="198.5" stroke="#333" stroke-width="0.5"/><text transform="translate(361.3,178.23) scale(0.9174,1)" font-size="5.01" text-anchor="end" fill="#3a3a3a" stroke="#3a3a3a" stroke-width="0.1">5</text><line x1="363.2" y1="176.63" x2="364.5" y2="176.63" stroke="#333" stroke-width="0.5"/><text transform="translate(361.3,156.37) scale(0.9174,1)" font-size="5.01" text-anchor="end" fill="#3a3a3a" stroke="#3a3a3a" stroke-width="0.1">10</text><line x1="363.2" y1="154.77" x2="364.5" y2="154.77" stroke="#333" stroke-width="0.5"/><text transform="translate(361.3,134.5) scale(0.9174,1)" font-size="5.01" text-anchor="end" fill="#3a3a3a" stroke="#3a3a3a" stroke-width="0.1">15</text><line x1="363.2" y1="132.9" x2="364.5" y2="132.9" stroke="#333" stroke-width="0.5"/><rect x="374.8" y="190.1" width="20.6" height="8.4" fill="#FBADA7" stroke="#444" stroke-width="0.8"/><line x1="374.8" y1="197.63" x2="395.4" y2="197.63" stroke="#333" stroke-width="1.05"/><line x1="385.1" y1="198.5" x2="385.1" y2="176.9" stroke="#777" stroke-width="0.9"/><line x1="381.5" y1="188.88" x2="388.7" y2="188.88" stroke="#1a1a1a" stroke-width="0.85"/><line x1="381.5" y1="196.97" x2="388.7" y2="196.97" stroke="#1a1a1a" stroke-width="0.85"/><circle cx="385.1" cy="197.41" r="2.0" fill="#000"/><line x1="385.1" y1="198.5" x2="385.1" y2="199.8" stroke="#333" stroke-width="0.5"/><text transform="translate(388.9,203.9) rotate(-45) scale(0.9259,1)" font-size="4.75" text-anchor="end" fill="#3a3a3a" stroke="#3a3a3a" stroke-width="0.1">post-Thymo</text><rect x="408.95" y="195.35" width="20.6" height="3.15" fill="#7d8a5a" stroke="#444" stroke-width="0.8"/><line x1="408.95" y1="197.19" x2="429.55" y2="197.19" stroke="#333" stroke-width="1.05"/><line x1="415.65" y1="168.5" x2="422.85" y2="168.5" stroke="#1a1a1a" stroke-width="0.85"/><circle cx="419.25" cy="196.49" r="2.0" fill="#000"/><line x1="419.25" y1="198.5" x2="419.25" y2="199.8" stroke="#333" stroke-width="0.5"/><text transform="translate(423.05,203.9) rotate(-45) scale(0.9259,1)" font-size="4.75" text-anchor="end" fill="#3a3a3a" stroke="#3a3a3a" stroke-width="0.1">post-ATLG</text><rect x="443.1" y="194.21" width="20.6" height="0.01" fill="#66D9DC" stroke="#444" stroke-width="0.8"/><line x1="443.1" y1="194.21" x2="463.7" y2="194.21" stroke="#333" stroke-width="1.05"/><line x1="453.4" y1="196.71" x2="453.4" y2="190.5" stroke="#1a1a1a" stroke-width="0.85"/><line x1="449.8" y1="190.5" x2="457" y2="190.5" stroke="#1a1a1a" stroke-width="0.85"/><line x1="449.8" y1="196.71" x2="457" y2="196.71" stroke="#1a1a1a" stroke-width="0.85"/><circle cx="453.4" cy="194.21" r="2.0" fill="#000"/><line x1="453.4" y1="198.5" x2="453.4" y2="199.8" stroke="#333" stroke-width="0.5"/><text transform="translate(457.2,203.9) rotate(-45) scale(0.9259,1)" font-size="4.75" text-anchor="end" fill="#3a3a3a" stroke="#3a3a3a" stroke-width="0.1">pre-ATLG</text><rect x="477.25" y="192.2" width="20.6" height="2.41" fill="#DDB0FF" stroke="#444" stroke-width="0.8"/><line x1="477.25" y1="194.13" x2="497.85" y2="194.13" stroke="#333" stroke-width="1.05"/><line x1="487.55" y1="192.2" x2="487.55" y2="190.1" stroke="#777" stroke-width="0.9"/><line x1="483.95" y1="186.39" x2="491.15" y2="186.39" stroke="#1a1a1a" stroke-width="0.85"/><circle cx="487.55" cy="193.91" r="2.0" fill="#000"/><line x1="487.55" y1="198.5" x2="487.55" y2="199.8" stroke="#333" stroke-width="0.5"/><text transform="translate(491.35,203.9) rotate(-45) scale(0.9259,1)" font-size="4.75" text-anchor="end" fill="#3a3a3a" stroke="#3a3a3a" stroke-width="0.1">pre-Thymo</text><line x1="364.5" y1="132.9" x2="364.5" y2="198.5" stroke="#606060" stroke-width="0.9"/><line x1="364.05" y1="198.5" x2="507.9" y2="198.5" stroke="#606060" stroke-width="0.9"/><text transform="translate(436.2,227.1) scale(0.9615,1)" font-size="5.93" text-anchor="middle" fill="#000" stroke="#000" stroke-width="0.06">ATG type</text><text transform="translate(358.05,238.6) scale(0.9615,1)" font-size="5.93" fill="#000" stroke="#000" stroke-width="0.06">ATGtype</text><line x1="387.4" y1="233.3" x2="387.4" y2="239.9" stroke="#222" stroke-width="0.8"/><rect x="384.4" y="234.4" width="6" height="4.4" fill="#FBADA7" stroke="#333" stroke-width="0.6"/><line x1="384.4" y1="236.6" x2="390.4" y2="236.6" stroke="#222" stroke-width="0.8"/><circle cx="387.4" cy="236.6" r="1.9" fill="#000"/><text transform="translate(394.15,238.6) scale(0.9091,1)" font-size="4.79" fill="#111" stroke="#111" stroke-width="0.1">post-Thymo</text><line x1="421.45" y1="233.3" x2="421.45" y2="239.9" stroke="#222" stroke-width="0.8"/><rect x="418.45" y="234.4" width="6" height="4.4" fill="#B0CE66" stroke="#333" stroke-width="0.6"/><line x1="418.45" y1="236.6" x2="424.45" y2="236.6" stroke="#222" stroke-width="0.8"/><circle cx="421.45" cy="236.6" r="1.9" fill="#000"/><text transform="translate(428.15,238.6) scale(0.9091,1)" font-size="4.79" fill="#111" stroke="#111" stroke-width="0.1">post-ATLG</text><line x1="454.75" y1="233.3" x2="454.75" y2="239.9" stroke="#222" stroke-width="0.8"/><rect x="451.75" y="234.4" width="6" height="4.4" fill="#66D9DC" stroke="#333" stroke-width="0.6"/><line x1="451.75" y1="236.6" x2="457.75" y2="236.6" stroke="#222" stroke-width="0.8"/><circle cx="454.75" cy="236.6" r="1.9" fill="#000"/><text transform="translate(461.45,238.6) scale(0.9091,1)" font-size="4.79" fill="#111" stroke="#111" stroke-width="0.1">pre-ATLG</text><line x1="485.6" y1="233.3" x2="485.6" y2="239.9" stroke="#222" stroke-width="0.8"/><rect x="482.6" y="234.4" width="6" height="4.4" fill="#DDB0FF" stroke="#333" stroke-width="0.6"/><line x1="482.6" y1="236.6" x2="488.6" y2="236.6" stroke="#222" stroke-width="0.8"/><circle cx="485.6" cy="236.6" r="1.9" fill="#000"/><text transform="translate(492.45,238.6) scale(0.9091,1)" font-size="4.79" fill="#111" stroke="#111" stroke-width="0.1">pre-Thymo</text></g>
<g><text transform="translate(608.1,129.55) scale(0.9434,1)" font-size="7.63" text-anchor="middle" fill="#000" stroke="#000" stroke-width="0.15">CD19+/CD27-/CD10+</text><text transform="translate(523.4,165.7) rotate(-90) scale(0.9615,1)" font-size="5.93" text-anchor="middle" fill="#000" stroke="#000" stroke-width="0.06">Cell count</text><text transform="translate(533.2,200.1) scale(0.9174,1)" font-size="5.01" text-anchor="end" fill="#3a3a3a" stroke="#3a3a3a" stroke-width="0.1">0</text><line x1="535.1" y1="198.5" x2="536.4" y2="198.5" stroke="#333" stroke-width="0.5"/><text transform="translate(533.2,186.98) scale(0.9174,1)" font-size="5.01" text-anchor="end" fill="#3a3a3a" stroke="#3a3a3a" stroke-width="0.1">10</text><line x1="535.1" y1="185.38" x2="536.4" y2="185.38" stroke="#333" stroke-width="0.5"/><text transform="translate(533.2,173.86) scale(0.9174,1)" font-size="5.01" text-anchor="end" fill="#3a3a3a" stroke="#3a3a3a" stroke-width="0.1">20</text><line x1="535.1" y1="172.26" x2="536.4" y2="172.26" stroke="#333" stroke-width="0.5"/><text transform="translate(533.2,160.74) scale(0.9174,1)" font-size="5.01" text-anchor="end" fill="#3a3a3a" stroke="#3a3a3a" stroke-width="0.1">30</text><line x1="535.1" y1="159.14" x2="536.4" y2="159.14" stroke="#333" stroke-width="0.5"/><text transform="translate(533.2,147.62) scale(0.9174,1)" font-size="5.01" text-anchor="end" fill="#3a3a3a" stroke="#3a3a3a" stroke-width="0.1">40</text><line x1="535.1" y1="146.02" x2="536.4" y2="146.02" stroke="#333" stroke-width="0.5"/><text transform="translate(533.2,134.5) scale(0.9174,1)" font-size="5.01" text-anchor="end" fill="#3a3a3a" stroke="#3a3a3a" stroke-width="0.1">50</text><line x1="535.1" y1="132.9" x2="536.4" y2="132.9" stroke="#333" stroke-width="0.5"/><rect x="546.7" y="198.5" width="20.6" height="0.01" fill="#FBADA7" stroke="#444" stroke-width="0.8"/><line x1="546.7" y1="198.5" x2="567.3" y2="198.5" stroke="#333" stroke-width="1.05"/><line x1="553.4" y1="188.14" x2="560.6" y2="188.14" stroke="#1a1a1a" stroke-width="0.85"/><circle cx="557" cy="198.24" r="2.0" fill="#000"/><line x1="557" y1="198.5" x2="557" y2="199.8" stroke="#333" stroke-width="0.5"/><text transform="translate(560.8,203.9) rotate(-45) scale(0.9259,1)" font-size="4.75" text-anchor="end" fill="#3a3a3a" stroke="#3a3a3a" stroke-width="0.1">post-Thymo</text><rect x="580.85" y="198.5" width="20.6" height="0.01" fill="#B0CE66" stroke="#444" stroke-width="0.8"/><line x1="580.85" y1="198.5" x2="601.45" y2="198.5" stroke="#333" stroke-width="1.05"/><circle cx="591.15" cy="198.24" r="2.0" fill="#000"/><line x1="591.15" y1="198.5" x2="591.15" y2="199.8" stroke="#333" stroke-width="0.5"/><text transform="translate(594.95,203.9) rotate(-45) scale(0.9259,1)" font-size="4.75" text-anchor="end" fill="#3a3a3a" stroke="#3a3a3a" stroke-width="0.1">post-ATLG</text><rect x="615" y="186.56" width="20.6" height="11.94" fill="#66D9DC" stroke="#444" stroke-width="0.8"/><line x1="615" y1="193.25" x2="635.6" y2="193.25" stroke="#333" stroke-width="1.05"/><line x1="625.3" y1="186.56" x2="625.3" y2="182.89" stroke="#777" stroke-width="0.9"/><line x1="621.7" y1="177.25" x2="628.9" y2="177.25" stroke="#1a1a1a" stroke-width="0.85"/><circle cx="625.3" cy="193.25" r="2.0" fill="#000"/><line x1="625.3" y1="198.5" x2="625.3" y2="199.8" stroke="#333" stroke-width="0.5"/><text transform="translate(629.1,203.9) rotate(-45) scale(0.9259,1)" font-size="4.75" text-anchor="end" fill="#3a3a3a" stroke="#3a3a3a" stroke-width="0.1">pre-ATLG</text><rect x="649.15" y="191.28" width="20.6" height="6.17" fill="#DDB0FF" stroke="#444" stroke-width="0.8"/><line x1="649.15" y1="196.01" x2="669.75" y2="196.01" stroke="#333" stroke-width="1.05"/><line x1="659.45" y1="191.28" x2="659.45" y2="186.82" stroke="#777" stroke-width="0.9"/><line x1="655.85" y1="178.43" x2="663.05" y2="178.43" stroke="#1a1a1a" stroke-width="0.85"/><circle cx="659.45" cy="196.14" r="2.0" fill="#000"/><line x1="659.45" y1="198.5" x2="659.45" y2="199.8" stroke="#333" stroke-width="0.5"/><text transform="translate(663.25,203.9) rotate(-45) scale(0.9259,1)" font-size="4.75" text-anchor="end" fill="#3a3a3a" stroke="#3a3a3a" stroke-width="0.1">pre-Thymo</text><line x1="536.4" y1="132.9" x2="536.4" y2="198.5" stroke="#606060" stroke-width="0.9"/><line x1="535.95" y1="198.5" x2="679.8" y2="198.5" stroke="#606060" stroke-width="0.9"/><text transform="translate(608.1,227.1) scale(0.9615,1)" font-size="5.93" text-anchor="middle" fill="#000" stroke="#000" stroke-width="0.06">ATG type</text><text transform="translate(529.95,238.6) scale(0.9615,1)" font-size="5.93" fill="#000" stroke="#000" stroke-width="0.06">ATGtype</text><line x1="559.3" y1="233.3" x2="559.3" y2="239.9" stroke="#222" stroke-width="0.8"/><rect x="556.3" y="234.4" width="6" height="4.4" fill="#FBADA7" stroke="#333" stroke-width="0.6"/><line x1="556.3" y1="236.6" x2="562.3" y2="236.6" stroke="#222" stroke-width="0.8"/><circle cx="559.3" cy="236.6" r="1.9" fill="#000"/><text transform="translate(566.05,238.6) scale(0.9091,1)" font-size="4.79" fill="#111" stroke="#111" stroke-width="0.1">post-Thymo</text><line x1="593.35" y1="233.3" x2="593.35" y2="239.9" stroke="#222" stroke-width="0.8"/><rect x="590.35" y="234.4" width="6" height="4.4" fill="#B0CE66" stroke="#333" stroke-width="0.6"/><line x1="590.35" y1="236.6" x2="596.35" y2="236.6" stroke="#222" stroke-width="0.8"/><circle cx="593.35" cy="236.6" r="1.9" fill="#000"/><text transform="translate(600.05,238.6) scale(0.9091,1)" font-size="4.79" fill="#111" stroke="#111" stroke-width="0.1">post-ATLG</text><line x1="626.65" y1="233.3" x2="626.65" y2="239.9" stroke="#222" stroke-width="0.8"/><rect x="623.65" y="234.4" width="6" height="4.4" fill="#66D9DC" stroke="#333" stroke-width="0.6"/><line x1="623.65" y1="236.6" x2="629.65" y2="236.6" stroke="#222" stroke-width="0.8"/><circle cx="626.65" cy="236.6" r="1.9" fill="#000"/><text transform="translate(633.35,238.6) scale(0.9091,1)" font-size="4.79" fill="#111" stroke="#111" stroke-width="0.1">pre-ATLG</text><line x1="657.5" y1="233.3" x2="657.5" y2="239.9" stroke="#222" stroke-width="0.8"/><rect x="654.5" y="234.4" width="6" height="4.4" fill="#DDB0FF" stroke="#333" stroke-width="0.6"/><line x1="654.5" y1="236.6" x2="660.5" y2="236.6" stroke="#222" stroke-width="0.8"/><circle cx="657.5" cy="236.6" r="1.9" fill="#000"/><text transform="translate(664.35,238.6) scale(0.9091,1)" font-size="4.79" fill="#111" stroke="#111" stroke-width="0.1">pre-Thymo</text></g>
<g><text transform="translate(94.15,253.65) scale(0.9434,1)" font-size="7.63" text-anchor="middle" fill="#000" stroke="#000" stroke-width="0.15">CD56+/CD16+/CD3-</text><text transform="translate(5.05,289.8) rotate(-90) scale(0.9615,1)" font-size="5.93" text-anchor="middle" fill="#000" stroke="#000" stroke-width="0.06">Cell count</text><text transform="translate(19.25,324.2) scale(0.9174,1)" font-size="5.01" text-anchor="end" fill="#3a3a3a" stroke="#3a3a3a" stroke-width="0.1">0</text><line x1="21.15" y1="322.6" x2="22.45" y2="322.6" stroke="#333" stroke-width="0.5"/><text transform="translate(19.25,307.8) scale(0.9174,1)" font-size="5.01" text-anchor="end" fill="#3a3a3a" stroke="#3a3a3a" stroke-width="0.1">500</text><line x1="21.15" y1="306.2" x2="22.45" y2="306.2" stroke="#333" stroke-width="0.5"/><text transform="translate(19.25,291.4) scale(0.9174,1)" font-size="5.01" text-anchor="end" fill="#3a3a3a" stroke="#3a3a3a" stroke-width="0.1">1000</text><line x1="21.15" y1="289.8" x2="22.45" y2="289.8" stroke="#333" stroke-width="0.5"/><text transform="translate(19.25,275) scale(0.9174,1)" font-size="5.01" text-anchor="end" fill="#3a3a3a" stroke="#3a3a3a" stroke-width="0.1">1500</text><line x1="21.15" y1="273.4" x2="22.45" y2="273.4" stroke="#333" stroke-width="0.5"/><text transform="translate(19.25,258.6) scale(0.9174,1)" font-size="5.01" text-anchor="end" fill="#3a3a3a" stroke="#3a3a3a" stroke-width="0.1">2000</text><line x1="21.15" y1="257" x2="22.45" y2="257" stroke="#333" stroke-width="0.5"/><rect x="32.75" y="304.2" width="20.6" height="17.52" fill="#FBADA7" stroke="#444" stroke-width="0.8"/><line x1="32.75" y1="317.09" x2="53.35" y2="317.09" stroke="#333" stroke-width="1.05"/><line x1="43.05" y1="304.2" x2="43.05" y2="281.11" stroke="#777" stroke-width="0.9"/><line x1="43.05" y1="317.09" x2="43.05" y2="306.1" stroke="#1a1a1a" stroke-width="0.85"/><line x1="39.45" y1="306.1" x2="46.65" y2="306.1" stroke="#1a1a1a" stroke-width="0.85"/><circle cx="43.05" cy="317.09" r="2.0" fill="#000"/><line x1="43.05" y1="322.6" x2="43.05" y2="323.9" stroke="#333" stroke-width="0.5"/><text transform="translate(46.85,328) rotate(-45) scale(0.9259,1)" font-size="4.75" text-anchor="end" fill="#3a3a3a" stroke="#3a3a3a" stroke-width="0.1">post-Thymo</text><rect x="66.9" y="296" width="20.6" height="6.49" fill="#B0CE66" stroke="#444" stroke-width="0.8"/><line x1="66.9" y1="299.21" x2="87.5" y2="299.21" stroke="#333" stroke-width="1.05"/><line x1="77.2" y1="296" x2="77.2" y2="292.98" stroke="#777" stroke-width="0.9"/><line x1="77.2" y1="305.51" x2="77.2" y2="302.49" stroke="#777" stroke-width="0.9"/><circle cx="77.2" cy="299.21" r="2.0" fill="#000"/><line x1="77.2" y1="322.6" x2="77.2" y2="323.9" stroke="#333" stroke-width="0.5"/><text transform="translate(81,328) rotate(-45) scale(0.9259,1)" font-size="4.75" text-anchor="end" fill="#3a3a3a" stroke="#3a3a3a" stroke-width="0.1">post-ATLG</text><rect x="101.05" y="310.89" width="20.6" height="6.49" fill="#66D9DC" stroke="#444" stroke-width="0.8"/><line x1="101.05" y1="314.79" x2="121.65" y2="314.79" stroke="#333" stroke-width="1.05"/><line x1="111.35" y1="319.32" x2="111.35" y2="306.1" stroke="#1a1a1a" stroke-width="0.85"/><line x1="107.75" y1="306.1" x2="114.95" y2="306.1" stroke="#1a1a1a" stroke-width="0.85"/><line x1="107.75" y1="319.32" x2="114.95" y2="319.32" stroke="#1a1a1a" stroke-width="0.85"/><circle cx="111.35" cy="315.09" r="2.0" fill="#000"/><line x1="111.35" y1="322.6" x2="111.35" y2="323.9" stroke="#333" stroke-width="0.5"/><text transform="translate(115.15,328) rotate(-45) scale(0.9259,1)" font-size="4.75" text-anchor="end" fill="#3a3a3a" stroke="#3a3a3a" stroke-width="0.1">pre-ATLG</text><rect x="135.2" y="299.21" width="20.6" height="12.07" fill="#DDB0FF" stroke="#444" stroke-width="0.8"/><line x1="135.2" y1="310.99" x2="155.8" y2="310.99" stroke="#333" stroke-width="1.05"/><line x1="145.5" y1="299.21" x2="145.5" y2="287.8" stroke="#777" stroke-width="0.9"/><line x1="141.9" y1="269.2" x2="149.1" y2="269.2" stroke="#1a1a1a" stroke-width="0.85"/><circle cx="145.5" cy="310.99" r="2.0" fill="#000"/><line x1="145.5" y1="322.6" x2="145.5" y2="323.9" stroke="#333" stroke-width="0.5"/><text transform="translate(149.3,328) rotate(-45) scale(0.9259,1)" font-size="4.75" text-anchor="end" fill="#3a3a3a" stroke="#3a3a3a" stroke-width="0.1">pre-Thymo</text><line x1="22.45" y1="257" x2="22.45" y2="322.6" stroke="#606060" stroke-width="0.9"/><line x1="22" y1="322.6" x2="165.85" y2="322.6" stroke="#606060" stroke-width="0.9"/><text transform="translate(94.15,351.2) scale(0.9615,1)" font-size="5.93" text-anchor="middle" fill="#000" stroke="#000" stroke-width="0.06">ATG type</text><text transform="translate(16,362.7) scale(0.9615,1)" font-size="5.93" fill="#000" stroke="#000" stroke-width="0.06">ATGtype</text><line x1="45.35" y1="357.4" x2="45.35" y2="364" stroke="#222" stroke-width="0.8"/><rect x="42.35" y="358.5" width="6" height="4.4" fill="#FBADA7" stroke="#333" stroke-width="0.6"/><line x1="42.35" y1="360.7" x2="48.35" y2="360.7" stroke="#222" stroke-width="0.8"/><circle cx="45.35" cy="360.7" r="1.9" fill="#000"/><text transform="translate(52.1,362.7) scale(0.9091,1)" font-size="4.79" fill="#111" stroke="#111" stroke-width="0.1">post-Thymo</text><line x1="79.4" y1="357.4" x2="79.4" y2="364" stroke="#222" stroke-width="0.8"/><rect x="76.4" y="358.5" width="6" height="4.4" fill="#B0CE66" stroke="#333" stroke-width="0.6"/><line x1="76.4" y1="360.7" x2="82.4" y2="360.7" stroke="#222" stroke-width="0.8"/><circle cx="79.4" cy="360.7" r="1.9" fill="#000"/><text transform="translate(86.1,362.7) scale(0.9091,1)" font-size="4.79" fill="#111" stroke="#111" stroke-width="0.1">post-ATLG</text><line x1="112.7" y1="357.4" x2="112.7" y2="364" stroke="#222" stroke-width="0.8"/><rect x="109.7" y="358.5" width="6" height="4.4" fill="#66D9DC" stroke="#333" stroke-width="0.6"/><line x1="109.7" y1="360.7" x2="115.7" y2="360.7" stroke="#222" stroke-width="0.8"/><circle cx="112.7" cy="360.7" r="1.9" fill="#000"/><text transform="translate(119.4,362.7) scale(0.9091,1)" font-size="4.79" fill="#111" stroke="#111" stroke-width="0.1">pre-ATLG</text><line x1="143.55" y1="357.4" x2="143.55" y2="364" stroke="#222" stroke-width="0.8"/><rect x="140.55" y="358.5" width="6" height="4.4" fill="#DDB0FF" stroke="#333" stroke-width="0.6"/><line x1="140.55" y1="360.7" x2="146.55" y2="360.7" stroke="#222" stroke-width="0.8"/><circle cx="143.55" cy="360.7" r="1.9" fill="#000"/><text transform="translate(150.4,362.7) scale(0.9091,1)" font-size="4.79" fill="#111" stroke="#111" stroke-width="0.1">pre-Thymo</text></g>
<g><text transform="translate(266.2,253.65) scale(0.9434,1)" font-size="7.63" text-anchor="middle" fill="#000" stroke="#000" stroke-width="0.15">CD56+/CD16+/CD3+</text><text transform="translate(179.3,289.8) rotate(-90) scale(0.9615,1)" font-size="5.93" text-anchor="middle" fill="#000" stroke="#000" stroke-width="0.06">Cell count</text><text transform="translate(191.3,324.2) scale(0.9174,1)" font-size="5.01" text-anchor="end" fill="#3a3a3a" stroke="#3a3a3a" stroke-width="0.1">0</text><line x1="193.2" y1="322.6" x2="194.5" y2="322.6" stroke="#333" stroke-width="0.5"/><text transform="translate(191.3,302.33) scale(0.9174,1)" font-size="5.01" text-anchor="end" fill="#3a3a3a" stroke="#3a3a3a" stroke-width="0.1">100</text><line x1="193.2" y1="300.73" x2="194.5" y2="300.73" stroke="#333" stroke-width="0.5"/><text transform="translate(191.3,280.47) scale(0.9174,1)" font-size="5.01" text-anchor="end" fill="#3a3a3a" stroke="#3a3a3a" stroke-width="0.1">200</text><line x1="193.2" y1="278.87" x2="194.5" y2="278.87" stroke="#333" stroke-width="0.5"/><text transform="translate(191.3,258.6) scale(0.9174,1)" font-size="5.01" text-anchor="end" fill="#3a3a3a" stroke="#3a3a3a" stroke-width="0.1">300</text><line x1="193.2" y1="257" x2="194.5" y2="257" stroke="#333" stroke-width="0.5"/><rect x="204.8" y="310.9" width="20.6" height="11.7" fill="#FBADA7" stroke="#444" stroke-width="0.8"/><line x1="204.8" y1="322.16" x2="225.4" y2="322.16" stroke="#333" stroke-width="1.05"/><line x1="215.1" y1="310.9" x2="215.1" y2="293.95" stroke="#777" stroke-width="0.9"/><line x1="215.1" y1="321.29" x2="215.1" y2="310.57" stroke="#1a1a1a" stroke-width="0.85"/><line x1="211.5" y1="310.57" x2="218.7" y2="310.57" stroke="#1a1a1a" stroke-width="0.85"/><line x1="211.5" y1="319.32" x2="218.7" y2="319.32" stroke="#1a1a1a" stroke-width="0.85"/><circle cx="215.1" cy="321.29" r="2.0" fill="#000"/><line x1="215.1" y1="322.6" x2="215.1" y2="323.9" stroke="#333" stroke-width="0.5"/><text transform="translate(218.9,328) rotate(-45) scale(0.9259,1)" font-size="4.75" text-anchor="end" fill="#3a3a3a" stroke="#3a3a3a" stroke-width="0.1">post-Thymo</text><rect x="238.95" y="316.48" width="20.6" height="0.01" fill="#B0CE66" stroke="#444" stroke-width="0.8"/><line x1="238.95" y1="316.48" x2="259.55" y2="316.48" stroke="#333" stroke-width="1.05"/><line x1="245.65" y1="308.39" x2="252.85" y2="308.39" stroke="#1a1a1a" stroke-width="0.85"/><circle cx="249.25" cy="316.48" r="2.0" fill="#000"/><line x1="249.25" y1="322.6" x2="249.25" y2="323.9" stroke="#333" stroke-width="0.5"/><text transform="translate(253.05,328) rotate(-45) scale(0.9259,1)" font-size="4.75" text-anchor="end" fill="#3a3a3a" stroke="#3a3a3a" stroke-width="0.1">post-ATLG</text><rect x="273.1" y="313.7" width="20.6" height="6.28" fill="#66D9DC" stroke="#444" stroke-width="0.8"/><line x1="273.1" y1="317.13" x2="293.7" y2="317.13" stroke="#333" stroke-width="1.05"/><line x1="283.4" y1="313.7" x2="283.4" y2="311.99" stroke="#777" stroke-width="0.9"/><line x1="279.8" y1="305.33" x2="287" y2="305.33" stroke="#1a1a1a" stroke-width="0.85"/><circle cx="283.4" cy="318.23" r="2.0" fill="#000"/><line x1="283.4" y1="322.6" x2="283.4" y2="323.9" stroke="#333" stroke-width="0.5"/><text transform="translate(287.2,328) rotate(-45) scale(0.9259,1)" font-size="4.75" text-anchor="end" fill="#3a3a3a" stroke="#3a3a3a" stroke-width="0.1">pre-ATLG</text><rect x="307.25" y="303.36" width="20.6" height="19.24" fill="#DDB0FF" stroke="#444" stroke-width="0.8"/><line x1="307.25" y1="322.16" x2="327.85" y2="322.16" stroke="#333" stroke-width="1.05"/><line x1="317.55" y1="303.36" x2="317.55" y2="284.99" stroke="#777" stroke-width="0.9"/><circle cx="317.55" cy="322.16" r="2.0" fill="#000"/><line x1="317.55" y1="322.6" x2="317.55" y2="323.9" stroke="#333" stroke-width="0.5"/><text transform="translate(321.35,328) rotate(-45) scale(0.9259,1)" font-size="4.75" text-anchor="end" fill="#3a3a3a" stroke="#3a3a3a" stroke-width="0.1">pre-Thymo</text><line x1="194.5" y1="257" x2="194.5" y2="322.6" stroke="#606060" stroke-width="0.9"/><line x1="194.05" y1="322.6" x2="337.9" y2="322.6" stroke="#606060" stroke-width="0.9"/><text transform="translate(266.2,351.2) scale(0.9615,1)" font-size="5.93" text-anchor="middle" fill="#000" stroke="#000" stroke-width="0.06">ATG type</text><text transform="translate(188.05,362.7) scale(0.9615,1)" font-size="5.93" fill="#000" stroke="#000" stroke-width="0.06">ATGtype</text><line x1="217.4" y1="357.4" x2="217.4" y2="364" stroke="#222" stroke-width="0.8"/><rect x="214.4" y="358.5" width="6" height="4.4" fill="#FBADA7" stroke="#333" stroke-width="0.6"/><line x1="214.4" y1="360.7" x2="220.4" y2="360.7" stroke="#222" stroke-width="0.8"/><circle cx="217.4" cy="360.7" r="1.9" fill="#000"/><text transform="translate(224.15,362.7) scale(0.9091,1)" font-size="4.79" fill="#111" stroke="#111" stroke-width="0.1">post-Thymo</text><line x1="251.45" y1="357.4" x2="251.45" y2="364" stroke="#222" stroke-width="0.8"/><rect x="248.45" y="358.5" width="6" height="4.4" fill="#B0CE66" stroke="#333" stroke-width="0.6"/><line x1="248.45" y1="360.7" x2="254.45" y2="360.7" stroke="#222" stroke-width="0.8"/><circle cx="251.45" cy="360.7" r="1.9" fill="#000"/><text transform="translate(258.15,362.7) scale(0.9091,1)" font-size="4.79" fill="#111" stroke="#111" stroke-width="0.1">post-ATLG</text><line x1="284.75" y1="357.4" x2="284.75" y2="364" stroke="#222" stroke-width="0.8"/><rect x="281.75" y="358.5" width="6" height="4.4" fill="#66D9DC" stroke="#333" stroke-width="0.6"/><line x1="281.75" y1="360.7" x2="287.75" y2="360.7" stroke="#222" stroke-width="0.8"/><circle cx="284.75" cy="360.7" r="1.9" fill="#000"/><text transform="translate(291.45,362.7) scale(0.9091,1)" font-size="4.79" fill="#111" stroke="#111" stroke-width="0.1">pre-ATLG</text><line x1="315.6" y1="357.4" x2="315.6" y2="364" stroke="#222" stroke-width="0.8"/><rect x="312.6" y="358.5" width="6" height="4.4" fill="#DDB0FF" stroke="#333" stroke-width="0.6"/><line x1="312.6" y1="360.7" x2="318.6" y2="360.7" stroke="#222" stroke-width="0.8"/><circle cx="315.6" cy="360.7" r="1.9" fill="#000"/><text transform="translate(322.45,362.7) scale(0.9091,1)" font-size="4.79" fill="#111" stroke="#111" stroke-width="0.1">pre-Thymo</text></g>
<g><text transform="translate(436.2,253.65) scale(0.9434,1)" font-size="7.63" text-anchor="middle" fill="#000" stroke="#000" stroke-width="0.15">CD4+/CD45RA+</text><text transform="translate(351.5,289.8) rotate(-90) scale(0.9615,1)" font-size="5.93" text-anchor="middle" fill="#000" stroke="#000" stroke-width="0.06">Cell count</text><text transform="translate(361.3,324.2) scale(0.9174,1)" font-size="5.01" text-anchor="end" fill="#3a3a3a" stroke="#3a3a3a" stroke-width="0.1">0</text><line x1="363.2" y1="322.6" x2="364.5" y2="322.6" stroke="#333" stroke-width="0.5"/><text transform="translate(361.3,311.08) scale(0.9174,1)" font-size="5.01" text-anchor="end" fill="#3a3a3a" stroke="#3a3a3a" stroke-width="0.1">10</text><line x1="363.2" y1="309.48" x2="364.5" y2="309.48" stroke="#333" stroke-width="0.5"/><text transform="translate(361.3,297.96) scale(0.9174,1)" font-size="5.01" text-anchor="end" fill="#3a3a3a" stroke="#3a3a3a" stroke-width="0.1">20</text><line x1="363.2" y1="296.36" x2="364.5" y2="296.36" stroke="#333" stroke-width="0.5"/><text transform="translate(361.3,284.84) scale(0.9174,1)" font-size="5.01" text-anchor="end" fill="#3a3a3a" stroke="#3a3a3a" stroke-width="0.1">30</text><line x1="363.2" y1="283.24" x2="364.5" y2="283.24" stroke="#333" stroke-width="0.5"/><text transform="translate(361.3,271.72) scale(0.9174,1)" font-size="5.01" text-anchor="end" fill="#3a3a3a" stroke="#3a3a3a" stroke-width="0.1">40</text><line x1="363.2" y1="270.12" x2="364.5" y2="270.12" stroke="#333" stroke-width="0.5"/><text transform="translate(361.3,258.6) scale(0.9174,1)" font-size="5.01" text-anchor="end" fill="#3a3a3a" stroke="#3a3a3a" stroke-width="0.1">50</text><line x1="363.2" y1="257" x2="364.5" y2="257" stroke="#333" stroke-width="0.5"/><rect x="374.8" y="322.6" width="20.6" height="0.01" fill="#FBADA7" stroke="#444" stroke-width="0.8"/><line x1="374.8" y1="322.6" x2="395.4" y2="322.6" stroke="#333" stroke-width="1.05"/><line x1="385.1" y1="322.6" x2="385.1" y2="320.5" stroke="#1a1a1a" stroke-width="0.85"/><line x1="381.5" y1="320.5" x2="388.7" y2="320.5" stroke="#1a1a1a" stroke-width="0.85"/><circle cx="385.1" cy="321.94" r="2.0" fill="#000"/><line x1="385.1" y1="322.6" x2="385.1" y2="323.9" stroke="#333" stroke-width="0.5"/><text transform="translate(388.9,328) rotate(-45) scale(0.9259,1)" font-size="4.75" text-anchor="end" fill="#3a3a3a" stroke="#3a3a3a" stroke-width="0.1">post-Thymo</text><rect x="408.95" y="322.6" width="20.6" height="0.01" fill="#B0CE66" stroke="#444" stroke-width="0.8"/><line x1="408.95" y1="322.6" x2="429.55" y2="322.6" stroke="#333" stroke-width="1.05"/><circle cx="419.25" cy="321.94" r="2.0" fill="#000"/><line x1="419.25" y1="322.6" x2="419.25" y2="323.9" stroke="#333" stroke-width="0.5"/><text transform="translate(423.05,328) rotate(-45) scale(0.9259,1)" font-size="4.75" text-anchor="end" fill="#3a3a3a" stroke="#3a3a3a" stroke-width="0.1">post-ATLG</text><rect x="443.1" y="315.12" width="20.6" height="5.38" fill="#66D9DC" stroke="#444" stroke-width="0.8"/><line x1="443.1" y1="317.35" x2="463.7" y2="317.35" stroke="#333" stroke-width="1.05"/><line x1="453.4" y1="322.6" x2="453.4" y2="311.19" stroke="#1a1a1a" stroke-width="0.85"/><line x1="449.8" y1="311.19" x2="457" y2="311.19" stroke="#1a1a1a" stroke-width="0.85"/><circle cx="453.4" cy="318.66" r="2.0" fill="#000"/><line x1="453.4" y1="322.6" x2="453.4" y2="323.9" stroke="#333" stroke-width="0.5"/><text transform="translate(457.2,328) rotate(-45) scale(0.9259,1)" font-size="4.75" text-anchor="end" fill="#3a3a3a" stroke="#3a3a3a" stroke-width="0.1">pre-ATLG</text><rect x="477.25" y="314.73" width="20.6" height="6.04" fill="#DDB0FF" stroke="#444" stroke-width="0.8"/><line x1="477.25" y1="320.24" x2="497.85" y2="320.24" stroke="#333" stroke-width="1.05"/><line x1="487.55" y1="314.73" x2="487.55" y2="309.74" stroke="#777" stroke-width="0.9"/><line x1="483.95" y1="300.3" x2="491.15" y2="300.3" stroke="#1a1a1a" stroke-width="0.85"/><circle cx="487.55" cy="319.84" r="2.0" fill="#000"/><line x1="487.55" y1="322.6" x2="487.55" y2="323.9" stroke="#333" stroke-width="0.5"/><text transform="translate(491.35,328) rotate(-45) scale(0.9259,1)" font-size="4.75" text-anchor="end" fill="#3a3a3a" stroke="#3a3a3a" stroke-width="0.1">pre-Thymo</text><line x1="364.5" y1="257" x2="364.5" y2="322.6" stroke="#606060" stroke-width="0.9"/><line x1="364.05" y1="322.6" x2="507.9" y2="322.6" stroke="#606060" stroke-width="0.9"/><text transform="translate(436.2,351.2) scale(0.9615,1)" font-size="5.93" text-anchor="middle" fill="#000" stroke="#000" stroke-width="0.06">ATG type</text><text transform="translate(358.05,362.7) scale(0.9615,1)" font-size="5.93" fill="#000" stroke="#000" stroke-width="0.06">ATGtype</text><line x1="387.4" y1="357.4" x2="387.4" y2="364" stroke="#222" stroke-width="0.8"/><rect x="384.4" y="358.5" width="6" height="4.4" fill="#FBADA7" stroke="#333" stroke-width="0.6"/><line x1="384.4" y1="360.7" x2="390.4" y2="360.7" stroke="#222" stroke-width="0.8"/><circle cx="387.4" cy="360.7" r="1.9" fill="#000"/><text transform="translate(394.15,362.7) scale(0.9091,1)" font-size="4.79" fill="#111" stroke="#111" stroke-width="0.1">post-Thymo</text><line x1="421.45" y1="357.4" x2="421.45" y2="364" stroke="#222" stroke-width="0.8"/><rect x="418.45" y="358.5" width="6" height="4.4" fill="#B0CE66" stroke="#333" stroke-width="0.6"/><line x1="418.45" y1="360.7" x2="424.45" y2="360.7" stroke="#222" stroke-width="0.8"/><circle cx="421.45" cy="360.7" r="1.9" fill="#000"/><text transform="translate(428.15,362.7) scale(0.9091,1)" font-size="4.79" fill="#111" stroke="#111" stroke-width="0.1">post-ATLG</text><line x1="454.75" y1="357.4" x2="454.75" y2="364" stroke="#222" stroke-width="0.8"/><rect x="451.75" y="358.5" width="6" height="4.4" fill="#66D9DC" stroke="#333" stroke-width="0.6"/><line x1="451.75" y1="360.7" x2="457.75" y2="360.7" stroke="#222" stroke-width="0.8"/><circle cx="454.75" cy="360.7" r="1.9" fill="#000"/><text transform="translate(461.45,362.7) scale(0.9091,1)" font-size="4.79" fill="#111" stroke="#111" stroke-width="0.1">pre-ATLG</text><line x1="485.6" y1="357.4" x2="485.6" y2="364" stroke="#222" stroke-width="0.8"/><rect x="482.6" y="358.5" width="6" height="4.4" fill="#DDB0FF" stroke="#333" stroke-width="0.6"/><line x1="482.6" y1="360.7" x2="488.6" y2="360.7" stroke="#222" stroke-width="0.8"/><circle cx="485.6" cy="360.7" r="1.9" fill="#000"/><text transform="translate(492.45,362.7) scale(0.9091,1)" font-size="4.79" fill="#111" stroke="#111" stroke-width="0.1">pre-Thymo</text></g>
<g><text transform="translate(608.1,253.65) scale(0.9434,1)" font-size="7.63" text-anchor="middle" fill="#000" stroke="#000" stroke-width="0.15">CD4+/CD45RO+</text><text transform="translate(521.2,289.8) rotate(-90) scale(0.9615,1)" font-size="5.93" text-anchor="middle" fill="#000" stroke="#000" stroke-width="0.06">Cell count</text><text transform="translate(533.2,324.2) scale(0.9174,1)" font-size="5.01" text-anchor="end" fill="#3a3a3a" stroke="#3a3a3a" stroke-width="0.1">0</text><line x1="535.1" y1="322.6" x2="536.4" y2="322.6" stroke="#333" stroke-width="0.5"/><text transform="translate(533.2,311.08) scale(0.9174,1)" font-size="5.01" text-anchor="end" fill="#3a3a3a" stroke="#3a3a3a" stroke-width="0.1">100</text><line x1="535.1" y1="309.48" x2="536.4" y2="309.48" stroke="#333" stroke-width="0.5"/><text transform="translate(533.2,297.96) scale(0.9174,1)" font-size="5.01" text-anchor="end" fill="#3a3a3a" stroke="#3a3a3a" stroke-width="0.1">200</text><line x1="535.1" y1="296.36" x2="536.4" y2="296.36" stroke="#333" stroke-width="0.5"/><text transform="translate(533.2,284.84) scale(0.9174,1)" font-size="5.01" text-anchor="end" fill="#3a3a3a" stroke="#3a3a3a" stroke-width="0.1">300</text><line x1="535.1" y1="283.24" x2="536.4" y2="283.24" stroke="#333" stroke-width="0.5"/><text transform="translate(533.2,271.72) scale(0.9174,1)" font-size="5.01" text-anchor="end" fill="#3a3a3a" stroke="#3a3a3a" stroke-width="0.1">400</text><line x1="535.1" y1="270.12" x2="536.4" y2="270.12" stroke="#333" stroke-width="0.5"/><text transform="translate(533.2,258.6) scale(0.9174,1)" font-size="5.01" text-anchor="end" fill="#3a3a3a" stroke="#3a3a3a" stroke-width="0.1">500</text><line x1="535.1" y1="257" x2="536.4" y2="257" stroke="#333" stroke-width="0.5"/><rect x="546.7" y="312.76" width="20.6" height="9.84" fill="#FBADA7" stroke="#444" stroke-width="0.8"/><line x1="546.7" y1="322.21" x2="567.3" y2="322.21" stroke="#333" stroke-width="1.05"/><line x1="557" y1="312.76" x2="557" y2="304.36" stroke="#777" stroke-width="0.9"/><line x1="557" y1="320.63" x2="557" y2="308.3" stroke="#1a1a1a" stroke-width="0.85"/><line x1="553.4" y1="308.3" x2="560.6" y2="308.3" stroke="#1a1a1a" stroke-width="0.85"/><line x1="553.4" y1="320.63" x2="560.6" y2="320.63" stroke="#1a1a1a" stroke-width="0.85"/><circle cx="557" cy="321.16" r="2.0" fill="#000"/><line x1="557" y1="322.6" x2="557" y2="323.9" stroke="#333" stroke-width="0.5"/><text transform="translate(560.8,328) rotate(-45) scale(0.9259,1)" font-size="4.75" text-anchor="end" fill="#3a3a3a" stroke="#3a3a3a" stroke-width="0.1">post-Thymo</text><rect x="580.85" y="316.3" width="20.6" height="0.01" fill="#B0CE66" stroke="#444" stroke-width="0.8"/><line x1="580.85" y1="316.3" x2="601.45" y2="316.3" stroke="#333" stroke-width="1.05"/><line x1="591.15" y1="317.61" x2="591.15" y2="314.99" stroke="#1a1a1a" stroke-width="0.85"/><line x1="587.55" y1="314.99" x2="594.75" y2="314.99" stroke="#1a1a1a" stroke-width="0.85"/><line x1="587.55" y1="317.61" x2="594.75" y2="317.61" stroke="#1a1a1a" stroke-width="0.85"/><circle cx="591.15" cy="316.3" r="2.0" fill="#000"/><line x1="591.15" y1="322.6" x2="591.15" y2="323.9" stroke="#333" stroke-width="0.5"/><text transform="translate(594.95,328) rotate(-45) scale(0.9259,1)" font-size="4.75" text-anchor="end" fill="#3a3a3a" stroke="#3a3a3a" stroke-width="0.1">post-ATLG</text><rect x="615" y="295.05" width="20.6" height="13.51" fill="#66D9DC" stroke="#444" stroke-width="0.8"/><line x1="615" y1="298.33" x2="635.6" y2="298.33" stroke="#333" stroke-width="1.05"/><line x1="625.3" y1="322.6" x2="625.3" y2="285.21" stroke="#1a1a1a" stroke-width="0.85"/><line x1="621.7" y1="285.21" x2="628.9" y2="285.21" stroke="#1a1a1a" stroke-width="0.85"/><line x1="621.7" y1="314.07" x2="628.9" y2="314.07" stroke="#1a1a1a" stroke-width="0.85"/><circle cx="625.3" cy="298.33" r="2.0" fill="#000"/><line x1="625.3" y1="322.6" x2="625.3" y2="323.9" stroke="#333" stroke-width="0.5"/><text transform="translate(629.1,328) rotate(-45) scale(0.9259,1)" font-size="4.75" text-anchor="end" fill="#3a3a3a" stroke="#3a3a3a" stroke-width="0.1">pre-ATLG</text><rect x="649.15" y="304.36" width="20.6" height="16.01" fill="#DDB0FF" stroke="#444" stroke-width="0.8"/><line x1="649.15" y1="320.37" x2="669.75" y2="320.37" stroke="#333" stroke-width="1.05"/><line x1="659.45" y1="304.36" x2="659.45" y2="289.28" stroke="#777" stroke-width="0.9"/><line x1="655.85" y1="264.22" x2="663.05" y2="264.22" stroke="#1a1a1a" stroke-width="0.85"/><circle cx="659.45" cy="320.11" r="2.0" fill="#000"/><line x1="659.45" y1="322.6" x2="659.45" y2="323.9" stroke="#333" stroke-width="0.5"/><text transform="translate(663.25,328) rotate(-45) scale(0.9259,1)" font-size="4.75" text-anchor="end" fill="#3a3a3a" stroke="#3a3a3a" stroke-width="0.1">pre-Thymo</text><line x1="536.4" y1="257" x2="536.4" y2="322.6" stroke="#606060" stroke-width="0.9"/><line x1="535.95" y1="322.6" x2="679.8" y2="322.6" stroke="#606060" stroke-width="0.9"/><text transform="translate(608.1,351.2) scale(0.9615,1)" font-size="5.93" text-anchor="middle" fill="#000" stroke="#000" stroke-width="0.06">ATG type</text><text transform="translate(529.95,362.7) scale(0.9615,1)" font-size="5.93" fill="#000" stroke="#000" stroke-width="0.06">ATGtype</text><line x1="559.3" y1="357.4" x2="559.3" y2="364" stroke="#222" stroke-width="0.8"/><rect x="556.3" y="358.5" width="6" height="4.4" fill="#FBADA7" stroke="#333" stroke-width="0.6"/><line x1="556.3" y1="360.7" x2="562.3" y2="360.7" stroke="#222" stroke-width="0.8"/><circle cx="559.3" cy="360.7" r="1.9" fill="#000"/><text transform="translate(566.05,362.7) scale(0.9091,1)" font-size="4.79" fill="#111" stroke="#111" stroke-width="0.1">post-Thymo</text><line x1="593.35" y1="357.4" x2="593.35" y2="364" stroke="#222" stroke-width="0.8"/><rect x="590.35" y="358.5" width="6" height="4.4" fill="#B0CE66" stroke="#333" stroke-width="0.6"/><line x1="590.35" y1="360.7" x2="596.35" y2="360.7" stroke="#222" stroke-width="0.8"/><circle cx="593.35" cy="360.7" r="1.9" fill="#000"/><text transform="translate(600.05,362.7) scale(0.9091,1)" font-size="4.79" fill="#111" stroke="#111" stroke-width="0.1">post-ATLG</text><line x1="626.65" y1="357.4" x2="626.65" y2="364" stroke="#222" stroke-width="0.8"/><rect x="623.65" y="358.5" width="6" height="4.4" fill="#66D9DC" stroke="#333" stroke-width="0.6"/><line x1="623.65" y1="360.7" x2="629.65" y2="360.7" stroke="#222" stroke-width="0.8"/><circle cx="626.65" cy="360.7" r="1.9" fill="#000"/><text transform="translate(633.35,362.7) scale(0.9091,1)" font-size="4.79" fill="#111" stroke="#111" stroke-width="0.1">pre-ATLG</text><line x1="657.5" y1="357.4" x2="657.5" y2="364" stroke="#222" stroke-width="0.8"/><rect x="654.5" y="358.5" width="6" height="4.4" fill="#DDB0FF" stroke="#333" stroke-width="0.6"/><line x1="654.5" y1="360.7" x2="660.5" y2="360.7" stroke="#222" stroke-width="0.8"/><circle cx="657.5" cy="360.7" r="1.9" fill="#000"/><text transform="translate(664.35,362.7) scale(0.9091,1)" font-size="4.79" fill="#111" stroke="#111" stroke-width="0.1">pre-Thymo</text></g>
<g><text transform="translate(94.15,377.45) scale(0.9434,1)" font-size="7.63" text-anchor="middle" fill="#000" stroke="#000" stroke-width="0.15">CD8+/CD45RA+</text><text transform="translate(5.05,413.6) rotate(-90) scale(0.9615,1)" font-size="5.93" text-anchor="middle" fill="#000" stroke="#000" stroke-width="0.06">Cell count</text><text transform="translate(19.25,448) scale(0.9174,1)" font-size="5.01" text-anchor="end" fill="#3a3a3a" stroke="#3a3a3a" stroke-width="0.1">0</text><line x1="21.15" y1="446.4" x2="22.45" y2="446.4" stroke="#333" stroke-width="0.5"/><text transform="translate(19.25,431.6) scale(0.9174,1)" font-size="5.01" text-anchor="end" fill="#3a3a3a" stroke="#3a3a3a" stroke-width="0.1">250</text><line x1="21.15" y1="430" x2="22.45" y2="430" stroke="#333" stroke-width="0.5"/><text transform="translate(19.25,415.2) scale(0.9174,1)" font-size="5.01" text-anchor="end" fill="#3a3a3a" stroke="#3a3a3a" stroke-width="0.1">500</text><line x1="21.15" y1="413.6" x2="22.45" y2="413.6" stroke="#333" stroke-width="0.5"/><text transform="translate(19.25,398.8) scale(0.9174,1)" font-size="5.01" text-anchor="end" fill="#3a3a3a" stroke="#3a3a3a" stroke-width="0.1">750</text><line x1="21.15" y1="397.2" x2="22.45" y2="397.2" stroke="#333" stroke-width="0.5"/><text transform="translate(19.25,382.4) scale(0.9174,1)" font-size="5.01" text-anchor="end" fill="#3a3a3a" stroke="#3a3a3a" stroke-width="0.1">1000</text><line x1="21.15" y1="380.8" x2="22.45" y2="380.8" stroke="#333" stroke-width="0.5"/><rect x="32.75" y="446.2" width="20.6" height="0.2" fill="#FBADA7" stroke="#444" stroke-width="0.8"/><line x1="32.75" y1="446.33" x2="53.35" y2="446.33" stroke="#333" stroke-width="1.05"/><line x1="43.05" y1="445.68" x2="43.05" y2="443.32" stroke="#1a1a1a" stroke-width="0.85"/><line x1="39.45" y1="443.32" x2="46.65" y2="443.32" stroke="#1a1a1a" stroke-width="0.85"/><circle cx="43.05" cy="445.68" r="2.0" fill="#000"/><line x1="43.05" y1="446.4" x2="43.05" y2="447.7" stroke="#333" stroke-width="0.5"/><text transform="translate(46.85,451.8) rotate(-45) scale(0.9259,1)" font-size="4.75" text-anchor="end" fill="#3a3a3a" stroke="#3a3a3a" stroke-width="0.1">post-Thymo</text><rect x="66.9" y="443.71" width="20.6" height="1.57" fill="#B0CE66" stroke="#444" stroke-width="0.8"/><line x1="66.9" y1="444.43" x2="87.5" y2="444.43" stroke="#333" stroke-width="1.05"/><line x1="73.6" y1="428.43" x2="80.8" y2="428.43" stroke="#1a1a1a" stroke-width="0.85"/><circle cx="77.2" cy="444.43" r="2.0" fill="#000"/><line x1="77.2" y1="446.4" x2="77.2" y2="447.7" stroke="#333" stroke-width="0.5"/><text transform="translate(81,451.8) rotate(-45) scale(0.9259,1)" font-size="4.75" text-anchor="end" fill="#3a3a3a" stroke="#3a3a3a" stroke-width="0.1">post-ATLG</text><rect x="101.05" y="440.1" width="20.6" height="4.33" fill="#66D9DC" stroke="#444" stroke-width="0.8"/><line x1="101.05" y1="442.2" x2="121.65" y2="442.2" stroke="#333" stroke-width="1.05"/><line x1="111.35" y1="446.07" x2="111.35" y2="436.23" stroke="#1a1a1a" stroke-width="0.85"/><line x1="107.75" y1="436.23" x2="114.95" y2="436.23" stroke="#1a1a1a" stroke-width="0.85"/><line x1="107.75" y1="446.07" x2="114.95" y2="446.07" stroke="#1a1a1a" stroke-width="0.85"/><circle cx="111.35" cy="442" r="2.0" fill="#000"/><line x1="111.35" y1="446.4" x2="111.35" y2="447.7" stroke="#333" stroke-width="0.5"/><text transform="translate(115.15,451.8) rotate(-45) scale(0.9259,1)" font-size="4.75" text-anchor="end" fill="#3a3a3a" stroke="#3a3a3a" stroke-width="0.1">pre-ATLG</text><rect x="135.2" y="433.21" width="20.6" height="13.19" fill="#DDB0FF" stroke="#444" stroke-width="0.8"/><line x1="135.2" y1="446.07" x2="155.8" y2="446.07" stroke="#333" stroke-width="1.05"/><line x1="145.5" y1="433.21" x2="145.5" y2="420.42" stroke="#777" stroke-width="0.9"/><line x1="141.9" y1="400.09" x2="149.1" y2="400.09" stroke="#1a1a1a" stroke-width="0.85"/><circle cx="145.5" cy="445.88" r="2.0" fill="#000"/><line x1="145.5" y1="446.4" x2="145.5" y2="447.7" stroke="#333" stroke-width="0.5"/><text transform="translate(149.3,451.8) rotate(-45) scale(0.9259,1)" font-size="4.75" text-anchor="end" fill="#3a3a3a" stroke="#3a3a3a" stroke-width="0.1">pre-Thymo</text><line x1="22.45" y1="380.8" x2="22.45" y2="446.4" stroke="#606060" stroke-width="0.9"/><line x1="22" y1="446.4" x2="165.85" y2="446.4" stroke="#606060" stroke-width="0.9"/><text transform="translate(94.15,475) scale(0.9615,1)" font-size="5.93" text-anchor="middle" fill="#000" stroke="#000" stroke-width="0.06">ATG type</text><text transform="translate(16,486.5) scale(0.9615,1)" font-size="5.93" fill="#000" stroke="#000" stroke-width="0.06">ATGtype</text><line x1="45.35" y1="481.2" x2="45.35" y2="487.8" stroke="#222" stroke-width="0.8"/><rect x="42.35" y="482.3" width="6" height="4.4" fill="#FBADA7" stroke="#333" stroke-width="0.6"/><line x1="42.35" y1="484.5" x2="48.35" y2="484.5" stroke="#222" stroke-width="0.8"/><circle cx="45.35" cy="484.5" r="1.9" fill="#000"/><text transform="translate(52.1,486.5) scale(0.9091,1)" font-size="4.79" fill="#111" stroke="#111" stroke-width="0.1">post-Thymo</text><line x1="79.4" y1="481.2" x2="79.4" y2="487.8" stroke="#222" stroke-width="0.8"/><rect x="76.4" y="482.3" width="6" height="4.4" fill="#B0CE66" stroke="#333" stroke-width="0.6"/><line x1="76.4" y1="484.5" x2="82.4" y2="484.5" stroke="#222" stroke-width="0.8"/><circle cx="79.4" cy="484.5" r="1.9" fill="#000"/><text transform="translate(86.1,486.5) scale(0.9091,1)" font-size="4.79" fill="#111" stroke="#111" stroke-width="0.1">post-ATLG</text><line x1="112.7" y1="481.2" x2="112.7" y2="487.8" stroke="#222" stroke-width="0.8"/><rect x="109.7" y="482.3" width="6" height="4.4" fill="#66D9DC" stroke="#333" stroke-width="0.6"/><line x1="109.7" y1="484.5" x2="115.7" y2="484.5" stroke="#222" stroke-width="0.8"/><circle cx="112.7" cy="484.5" r="1.9" fill="#000"/><text transform="translate(119.4,486.5) scale(0.9091,1)" font-size="4.79" fill="#111" stroke="#111" stroke-width="0.1">pre-ATLG</text><line x1="143.55" y1="481.2" x2="143.55" y2="487.8" stroke="#222" stroke-width="0.8"/><rect x="140.55" y="482.3" width="6" height="4.4" fill="#DDB0FF" stroke="#333" stroke-width="0.6"/><line x1="140.55" y1="484.5" x2="146.55" y2="484.5" stroke="#222" stroke-width="0.8"/><circle cx="143.55" cy="484.5" r="1.9" fill="#000"/><text transform="translate(150.4,486.5) scale(0.9091,1)" font-size="4.79" fill="#111" stroke="#111" stroke-width="0.1">pre-Thymo</text></g>
<g><text transform="translate(266.2,377.45) scale(0.9434,1)" font-size="7.63" text-anchor="middle" fill="#000" stroke="#000" stroke-width="0.15">CD8+/CD45RO+</text><text transform="translate(177.1,413.6) rotate(-90) scale(0.9615,1)" font-size="5.93" text-anchor="middle" fill="#000" stroke="#000" stroke-width="0.06">Cell count</text><text transform="translate(191.3,448) scale(0.9174,1)" font-size="5.01" text-anchor="end" fill="#3a3a3a" stroke="#3a3a3a" stroke-width="0.1">0</text><line x1="193.2" y1="446.4" x2="194.5" y2="446.4" stroke="#333" stroke-width="0.5"/><text transform="translate(191.3,431.6) scale(0.9174,1)" font-size="5.01" text-anchor="end" fill="#3a3a3a" stroke="#3a3a3a" stroke-width="0.1">500</text><line x1="193.2" y1="430" x2="194.5" y2="430" stroke="#333" stroke-width="0.5"/><text transform="translate(191.3,415.2) scale(0.9174,1)" font-size="5.01" text-anchor="end" fill="#3a3a3a" stroke="#3a3a3a" stroke-width="0.1">1000</text><line x1="193.2" y1="413.6" x2="194.5" y2="413.6" stroke="#333" stroke-width="0.5"/><text transform="translate(191.3,398.8) scale(0.9174,1)" font-size="5.01" text-anchor="end" fill="#3a3a3a" stroke="#3a3a3a" stroke-width="0.1">1500</text><line x1="193.2" y1="397.2" x2="194.5" y2="397.2" stroke="#333" stroke-width="0.5"/><text transform="translate(191.3,382.4) scale(0.9174,1)" font-size="5.01" text-anchor="end" fill="#3a3a3a" stroke="#3a3a3a" stroke-width="0.1">2000</text><line x1="193.2" y1="380.8" x2="194.5" y2="380.8" stroke="#333" stroke-width="0.5"/><rect x="204.8" y="446.4" width="20.6" height="0.01" fill="#FBADA7" stroke="#444" stroke-width="0.8"/><line x1="204.8" y1="446.4" x2="225.4" y2="446.4" stroke="#333" stroke-width="1.05"/><line x1="211.5" y1="435.51" x2="218.7" y2="435.51" stroke="#1a1a1a" stroke-width="0.85"/><circle cx="215.1" cy="446.24" r="2.0" fill="#000"/><line x1="215.1" y1="446.4" x2="215.1" y2="447.7" stroke="#333" stroke-width="0.5"/><text transform="translate(218.9,451.8) rotate(-45) scale(0.9259,1)" font-size="4.75" text-anchor="end" fill="#3a3a3a" stroke="#3a3a3a" stroke-width="0.1">post-Thymo</text><rect x="238.95" y="440.69" width="20.6" height="0.01" fill="#B0CE66" stroke="#444" stroke-width="0.8"/><line x1="238.95" y1="440.69" x2="259.55" y2="440.69" stroke="#333" stroke-width="1.05"/><line x1="249.25" y1="445.28" x2="249.25" y2="436.2" stroke="#1a1a1a" stroke-width="0.85"/><line x1="245.65" y1="436.2" x2="252.85" y2="436.2" stroke="#1a1a1a" stroke-width="0.85"/><line x1="245.65" y1="445.28" x2="252.85" y2="445.28" stroke="#1a1a1a" stroke-width="0.85"/><circle cx="249.25" cy="440.69" r="2.0" fill="#000"/><line x1="249.25" y1="446.4" x2="249.25" y2="447.7" stroke="#333" stroke-width="0.5"/><text transform="translate(253.05,451.8) rotate(-45) scale(0.9259,1)" font-size="4.75" text-anchor="end" fill="#3a3a3a" stroke="#3a3a3a" stroke-width="0.1">post-ATLG</text><rect x="273.1" y="430.1" width="20.6" height="14.1" fill="#66D9DC" stroke="#444" stroke-width="0.8"/><line x1="273.1" y1="439.18" x2="293.7" y2="439.18" stroke="#333" stroke-width="1.05"/><line x1="283.4" y1="446.4" x2="283.4" y2="410.91" stroke="#1a1a1a" stroke-width="0.85"/><line x1="279.8" y1="423.01" x2="287" y2="423.01" stroke="#1a1a1a" stroke-width="0.85"/><line x1="279.8" y1="446.1" x2="287" y2="446.1" stroke="#1a1a1a" stroke-width="0.85"/><circle cx="283.4" cy="439.35" r="2.0" fill="#000"/><line x1="283.4" y1="446.4" x2="283.4" y2="447.7" stroke="#333" stroke-width="0.5"/><text transform="translate(287.2,451.8) rotate(-45) scale(0.9259,1)" font-size="4.75" text-anchor="end" fill="#3a3a3a" stroke="#3a3a3a" stroke-width="0.1">pre-ATLG</text><rect x="307.25" y="421.31" width="20.6" height="24.93" fill="#DDB0FF" stroke="#444" stroke-width="0.8"/><line x1="307.25" y1="445.42" x2="327.85" y2="445.42" stroke="#333" stroke-width="1.05"/><line x1="317.55" y1="421.31" x2="317.55" y2="397.1" stroke="#777" stroke-width="0.9"/><circle cx="317.55" cy="445.42" r="2.0" fill="#000"/><line x1="317.55" y1="446.4" x2="317.55" y2="447.7" stroke="#333" stroke-width="0.5"/><text transform="translate(321.35,451.8) rotate(-45) scale(0.9259,1)" font-size="4.75" text-anchor="end" fill="#3a3a3a" stroke="#3a3a3a" stroke-width="0.1">pre-Thymo</text><line x1="194.5" y1="380.8" x2="194.5" y2="446.4" stroke="#606060" stroke-width="0.9"/><line x1="194.05" y1="446.4" x2="337.9" y2="446.4" stroke="#606060" stroke-width="0.9"/><text transform="translate(266.2,475) scale(0.9615,1)" font-size="5.93" text-anchor="middle" fill="#000" stroke="#000" stroke-width="0.06">ATG type</text><text transform="translate(188.05,486.5) scale(0.9615,1)" font-size="5.93" fill="#000" stroke="#000" stroke-width="0.06">ATGtype</text><line x1="217.4" y1="481.2" x2="217.4" y2="487.8" stroke="#222" stroke-width="0.8"/><rect x="214.4" y="482.3" width="6" height="4.4" fill="#FBADA7" stroke="#333" stroke-width="0.6"/><line x1="214.4" y1="484.5" x2="220.4" y2="484.5" stroke="#222" stroke-width="0.8"/><circle cx="217.4" cy="484.5" r="1.9" fill="#000"/><text transform="translate(224.15,486.5) scale(0.9091,1)" font-size="4.79" fill="#111" stroke="#111" stroke-width="0.1">post-Thymo</text><line x1="251.45" y1="481.2" x2="251.45" y2="487.8" stroke="#222" stroke-width="0.8"/><rect x="248.45" y="482.3" width="6" height="4.4" fill="#B0CE66" stroke="#333" stroke-width="0.6"/><line x1="248.45" y1="484.5" x2="254.45" y2="484.5" stroke="#222" stroke-width="0.8"/><circle cx="251.45" cy="484.5" r="1.9" fill="#000"/><text transform="translate(258.15,486.5) scale(0.9091,1)" font-size="4.79" fill="#111" stroke="#111" stroke-width="0.1">post-ATLG</text><line x1="284.75" y1="481.2" x2="284.75" y2="487.8" stroke="#222" stroke-width="0.8"/><rect x="281.75" y="482.3" width="6" height="4.4" fill="#66D9DC" stroke="#333" stroke-width="0.6"/><line x1="281.75" y1="484.5" x2="287.75" y2="484.5" stroke="#222" stroke-width="0.8"/><circle cx="284.75" cy="484.5" r="1.9" fill="#000"/><text transform="translate(291.45,486.5) scale(0.9091,1)" font-size="4.79" fill="#111" stroke="#111" stroke-width="0.1">pre-ATLG</text><line x1="315.6" y1="481.2" x2="315.6" y2="487.8" stroke="#222" stroke-width="0.8"/><rect x="312.6" y="482.3" width="6" height="4.4" fill="#DDB0FF" stroke="#333" stroke-width="0.6"/><line x1="312.6" y1="484.5" x2="318.6" y2="484.5" stroke="#222" stroke-width="0.8"/><circle cx="315.6" cy="484.5" r="1.9" fill="#000"/><text transform="translate(322.45,486.5) scale(0.9091,1)" font-size="4.79" fill="#111" stroke="#111" stroke-width="0.1">pre-Thymo</text></g>
<g><text transform="translate(436.2,377.45) scale(0.9434,1)" font-size="7.63" text-anchor="middle" fill="#000" stroke="#000" stroke-width="0.15">Gamma-delta</text><text transform="translate(349.3,413.6) rotate(-90) scale(0.9615,1)" font-size="5.93" text-anchor="middle" fill="#000" stroke="#000" stroke-width="0.06">Cell count</text><text transform="translate(361.3,448) scale(0.9174,1)" font-size="5.01" text-anchor="end" fill="#3a3a3a" stroke="#3a3a3a" stroke-width="0.1">0</text><line x1="363.2" y1="446.4" x2="364.5" y2="446.4" stroke="#333" stroke-width="0.5"/><text transform="translate(361.3,431.6) scale(0.9174,1)" font-size="5.01" text-anchor="end" fill="#3a3a3a" stroke="#3a3a3a" stroke-width="0.1">100</text><line x1="363.2" y1="430" x2="364.5" y2="430" stroke="#333" stroke-width="0.5"/><text transform="translate(361.3,415.2) scale(0.9174,1)" font-size="5.01" text-anchor="end" fill="#3a3a3a" stroke="#3a3a3a" stroke-width="0.1">200</text><line x1="363.2" y1="413.6" x2="364.5" y2="413.6" stroke="#333" stroke-width="0.5"/><text transform="translate(361.3,398.8) scale(0.9174,1)" font-size="5.01" text-anchor="end" fill="#3a3a3a" stroke="#3a3a3a" stroke-width="0.1">300</text><line x1="363.2" y1="397.2" x2="364.5" y2="397.2" stroke="#333" stroke-width="0.5"/><text transform="translate(361.3,382.4) scale(0.9174,1)" font-size="5.01" text-anchor="end" fill="#3a3a3a" stroke="#3a3a3a" stroke-width="0.1">400</text><line x1="363.2" y1="380.8" x2="364.5" y2="380.8" stroke="#333" stroke-width="0.5"/><rect x="374.8" y="443.94" width="20.6" height="2.46" fill="#FBADA7" stroke="#444" stroke-width="0.8"/><line x1="374.8" y1="445.91" x2="395.4" y2="445.91" stroke="#333" stroke-width="1.05"/><line x1="385.1" y1="443.94" x2="385.1" y2="437.38" stroke="#777" stroke-width="0.9"/><line x1="381.5" y1="437.38" x2="388.7" y2="437.38" stroke="#1a1a1a" stroke-width="0.85"/><circle cx="385.1" cy="445.58" r="2.0" fill="#000"/><line x1="385.1" y1="446.4" x2="385.1" y2="447.7" stroke="#333" stroke-width="0.5"/><text transform="translate(388.9,451.8) rotate(-45) scale(0.9259,1)" font-size="4.75" text-anchor="end" fill="#3a3a3a" stroke="#3a3a3a" stroke-width="0.1">post-Thymo</text><rect x="408.95" y="439.68" width="20.6" height="3.28" fill="#B0CE66" stroke="#444" stroke-width="0.8"/><line x1="408.95" y1="441.15" x2="429.55" y2="441.15" stroke="#333" stroke-width="1.05"/><line x1="415.65" y1="405.24" x2="422.85" y2="405.24" stroke="#1a1a1a" stroke-width="0.85"/><circle cx="419.25" cy="441.15" r="2.0" fill="#000"/><line x1="419.25" y1="446.4" x2="419.25" y2="447.7" stroke="#333" stroke-width="0.5"/><text transform="translate(423.05,451.8) rotate(-45) scale(0.9259,1)" font-size="4.75" text-anchor="end" fill="#3a3a3a" stroke="#3a3a3a" stroke-width="0.1">post-ATLG</text><rect x="443.1" y="433.28" width="20.6" height="12.46" fill="#66D9DC" stroke="#444" stroke-width="0.8"/><line x1="443.1" y1="444.43" x2="463.7" y2="444.43" stroke="#333" stroke-width="1.05"/><line x1="453.4" y1="446.4" x2="453.4" y2="428.2" stroke="#1a1a1a" stroke-width="0.85"/><line x1="449.8" y1="433.61" x2="457" y2="433.61" stroke="#1a1a1a" stroke-width="0.85"/><circle cx="453.4" cy="444.43" r="2.0" fill="#000"/><line x1="453.4" y1="446.4" x2="453.4" y2="447.7" stroke="#333" stroke-width="0.5"/><text transform="translate(457.2,451.8) rotate(-45) scale(0.9259,1)" font-size="4.75" text-anchor="end" fill="#3a3a3a" stroke="#3a3a3a" stroke-width="0.1">pre-ATLG</text><rect x="477.25" y="439.35" width="20.6" height="7.05" fill="#DDB0FF" stroke="#444" stroke-width="0.8"/><line x1="477.25" y1="445.74" x2="497.85" y2="445.74" stroke="#333" stroke-width="1.05"/><line x1="487.55" y1="439.35" x2="487.55" y2="433.77" stroke="#777" stroke-width="0.9"/><line x1="483.95" y1="424.1" x2="491.15" y2="424.1" stroke="#1a1a1a" stroke-width="0.85"/><circle cx="487.55" cy="445.42" r="2.0" fill="#000"/><line x1="487.55" y1="446.4" x2="487.55" y2="447.7" stroke="#333" stroke-width="0.5"/><text transform="translate(491.35,451.8) rotate(-45) scale(0.9259,1)" font-size="4.75" text-anchor="end" fill="#3a3a3a" stroke="#3a3a3a" stroke-width="0.1">pre-Thymo</text><line x1="364.5" y1="380.8" x2="364.5" y2="446.4" stroke="#606060" stroke-width="0.9"/><line x1="364.05" y1="446.4" x2="507.9" y2="446.4" stroke="#606060" stroke-width="0.9"/><text transform="translate(436.2,475) scale(0.9615,1)" font-size="5.93" text-anchor="middle" fill="#000" stroke="#000" stroke-width="0.06">ATG type</text><text transform="translate(358.05,486.5) scale(0.9615,1)" font-size="5.93" fill="#000" stroke="#000" stroke-width="0.06">ATGtype</text><line x1="387.4" y1="481.2" x2="387.4" y2="487.8" stroke="#222" stroke-width="0.8"/><rect x="384.4" y="482.3" width="6" height="4.4" fill="#FBADA7" stroke="#333" stroke-width="0.6"/><line x1="384.4" y1="484.5" x2="390.4" y2="484.5" stroke="#222" stroke-width="0.8"/><circle cx="387.4" cy="484.5" r="1.9" fill="#000"/><text transform="translate(394.15,486.5) scale(0.9091,1)" font-size="4.79" fill="#111" stroke="#111" stroke-width="0.1">post-Thymo</text><line x1="421.45" y1="481.2" x2="421.45" y2="487.8" stroke="#222" stroke-width="0.8"/><rect x="418.45" y="482.3" width="6" height="4.4" fill="#B0CE66" stroke="#333" stroke-width="0.6"/><line x1="418.45" y1="484.5" x2="424.45" y2="484.5" stroke="#222" stroke-width="0.8"/><circle cx="421.45" cy="484.5" r="1.9" fill="#000"/><text transform="translate(428.15,486.5) scale(0.9091,1)" font-size="4.79" fill="#111" stroke="#111" stroke-width="0.1">post-ATLG</text><line x1="454.75" y1="481.2" x2="454.75" y2="487.8" stroke="#222" stroke-width="0.8"/><rect x="451.75" y="482.3" width="6" height="4.4" fill="#66D9DC" stroke="#333" stroke-width="0.6"/><line x1="451.75" y1="484.5" x2="457.75" y2="484.5" stroke="#222" stroke-width="0.8"/><circle cx="454.75" cy="484.5" r="1.9" fill="#000"/><text transform="translate(461.45,486.5) scale(0.9091,1)" font-size="4.79" fill="#111" stroke="#111" stroke-width="0.1">pre-ATLG</text><line x1="485.6" y1="481.2" x2="485.6" y2="487.8" stroke="#222" stroke-width="0.8"/><rect x="482.6" y="482.3" width="6" height="4.4" fill="#DDB0FF" stroke="#333" stroke-width="0.6"/><line x1="482.6" y1="484.5" x2="488.6" y2="484.5" stroke="#222" stroke-width="0.8"/><circle cx="485.6" cy="484.5" r="1.9" fill="#000"/><text transform="translate(492.45,486.5) scale(0.9091,1)" font-size="4.79" fill="#111" stroke="#111" stroke-width="0.1">pre-Thymo</text></g>
<g><text transform="translate(608.1,377.45) scale(0.9434,1)" font-size="7.63" text-anchor="middle" fill="#000" stroke="#000" stroke-width="0.15">CD4+/CD25+/CD127low</text><text transform="translate(523.4,413.6) rotate(-90) scale(0.9615,1)" font-size="5.93" text-anchor="middle" fill="#000" stroke="#000" stroke-width="0.06">Cell count</text><text transform="translate(533.2,448) scale(0.9174,1)" font-size="5.01" text-anchor="end" fill="#3a3a3a" stroke="#3a3a3a" stroke-width="0.1">0</text><line x1="535.1" y1="446.4" x2="536.4" y2="446.4" stroke="#333" stroke-width="0.5"/><text transform="translate(533.2,434.88) scale(0.9174,1)" font-size="5.01" text-anchor="end" fill="#3a3a3a" stroke="#3a3a3a" stroke-width="0.1">10</text><line x1="535.1" y1="433.28" x2="536.4" y2="433.28" stroke="#333" stroke-width="0.5"/><text transform="translate(533.2,421.76) scale(0.9174,1)" font-size="5.01" text-anchor="end" fill="#3a3a3a" stroke="#3a3a3a" stroke-width="0.1">20</text><line x1="535.1" y1="420.16" x2="536.4" y2="420.16" stroke="#333" stroke-width="0.5"/><text transform="translate(533.2,408.64) scale(0.9174,1)" font-size="5.01" text-anchor="end" fill="#3a3a3a" stroke="#3a3a3a" stroke-width="0.1">30</text><line x1="535.1" y1="407.04" x2="536.4" y2="407.04" stroke="#333" stroke-width="0.5"/><text transform="translate(533.2,395.52) scale(0.9174,1)" font-size="5.01" text-anchor="end" fill="#3a3a3a" stroke="#3a3a3a" stroke-width="0.1">40</text><line x1="535.1" y1="393.92" x2="536.4" y2="393.92" stroke="#333" stroke-width="0.5"/><text transform="translate(533.2,382.4) scale(0.9174,1)" font-size="5.01" text-anchor="end" fill="#3a3a3a" stroke="#3a3a3a" stroke-width="0.1">50</text><line x1="535.1" y1="380.8" x2="536.4" y2="380.8" stroke="#333" stroke-width="0.5"/><rect x="546.7" y="439.45" width="20.6" height="6.95" fill="#FBADA7" stroke="#444" stroke-width="0.8"/><line x1="546.7" y1="446.01" x2="567.3" y2="446.01" stroke="#333" stroke-width="1.05"/><line x1="557" y1="439.45" x2="557" y2="429.87" stroke="#777" stroke-width="0.9"/><line x1="557" y1="446.4" x2="557" y2="434.2" stroke="#1a1a1a" stroke-width="0.85"/><line x1="553.4" y1="434.2" x2="560.6" y2="434.2" stroke="#1a1a1a" stroke-width="0.85"/><circle cx="557" cy="445.74" r="2.0" fill="#000"/><line x1="557" y1="446.4" x2="557" y2="447.7" stroke="#333" stroke-width="0.5"/><text transform="translate(560.8,451.8) rotate(-45) scale(0.9259,1)" font-size="4.75" text-anchor="end" fill="#3a3a3a" stroke="#3a3a3a" stroke-width="0.1">post-Thymo</text><rect x="580.85" y="438.79" width="20.6" height="0.01" fill="#B0CE66" stroke="#444" stroke-width="0.8"/><line x1="580.85" y1="438.79" x2="601.45" y2="438.79" stroke="#333" stroke-width="1.05"/><line x1="587.55" y1="422.13" x2="594.75" y2="422.13" stroke="#1a1a1a" stroke-width="0.85"/><circle cx="591.15" cy="438.79" r="2.0" fill="#000"/><line x1="591.15" y1="446.4" x2="591.15" y2="447.7" stroke="#333" stroke-width="0.5"/><text transform="translate(594.95,451.8) rotate(-45) scale(0.9259,1)" font-size="4.75" text-anchor="end" fill="#3a3a3a" stroke="#3a3a3a" stroke-width="0.1">post-ATLG</text><rect x="615" y="420.42" width="20.6" height="19.02" fill="#66D9DC" stroke="#444" stroke-width="0.8"/><line x1="615" y1="430.13" x2="635.6" y2="430.13" stroke="#333" stroke-width="1.05"/><line x1="625.3" y1="446.4" x2="625.3" y2="404.55" stroke="#1a1a1a" stroke-width="0.85"/><line x1="621.7" y1="416.36" x2="628.9" y2="416.36" stroke="#1a1a1a" stroke-width="0.85"/><line x1="621.7" y1="439.45" x2="628.9" y2="439.45" stroke="#1a1a1a" stroke-width="0.85"/><circle cx="625.3" cy="430.13" r="2.0" fill="#000"/><line x1="625.3" y1="446.4" x2="625.3" y2="447.7" stroke="#333" stroke-width="0.5"/><text transform="translate(629.1,451.8) rotate(-45) scale(0.9259,1)" font-size="4.75" text-anchor="end" fill="#3a3a3a" stroke="#3a3a3a" stroke-width="0.1">pre-ATLG</text><rect x="649.15" y="434.72" width="20.6" height="7.22" fill="#DDB0FF" stroke="#444" stroke-width="0.8"/><line x1="649.15" y1="438.66" x2="669.75" y2="438.66" stroke="#333" stroke-width="1.05"/><line x1="659.45" y1="434.72" x2="659.45" y2="431.18" stroke="#777" stroke-width="0.9"/><line x1="655.85" y1="420.42" x2="663.05" y2="420.42" stroke="#1a1a1a" stroke-width="0.85"/><circle cx="659.45" cy="438.66" r="2.0" fill="#000"/><line x1="659.45" y1="446.4" x2="659.45" y2="447.7" stroke="#333" stroke-width="0.5"/><text transform="translate(663.25,451.8) rotate(-45) scale(0.9259,1)" font-size="4.75" text-anchor="end" fill="#3a3a3a" stroke="#3a3a3a" stroke-width="0.1">pre-Thymo</text><line x1="536.4" y1="380.8" x2="536.4" y2="446.4" stroke="#606060" stroke-width="0.9"/><line x1="535.95" y1="446.4" x2="679.8" y2="446.4" stroke="#606060" stroke-width="0.9"/><text transform="translate(608.1,475) scale(0.9615,1)" font-size="5.93" text-anchor="middle" fill="#000" stroke="#000" stroke-width="0.06">ATG type</text><text transform="translate(529.95,486.5) scale(0.9615,1)" font-size="5.93" fill="#000" stroke="#000" stroke-width="0.06">ATGtype</text><line x1="559.3" y1="481.2" x2="559.3" y2="487.8" stroke="#222" stroke-width="0.8"/><rect x="556.3" y="482.3" width="6" height="4.4" fill="#FBADA7" stroke="#333" stroke-width="0.6"/><line x1="556.3" y1="484.5" x2="562.3" y2="484.5" stroke="#222" stroke-width="0.8"/><circle cx="559.3" cy="484.5" r="1.9" fill="#000"/><text transform="translate(566.05,486.5) scale(0.9091,1)" font-size="4.79" fill="#111" stroke="#111" stroke-width="0.1">post-Thymo</text><line x1="593.35" y1="481.2" x2="593.35" y2="487.8" stroke="#222" stroke-width="0.8"/><rect x="590.35" y="482.3" width="6" height="4.4" fill="#B0CE66" stroke="#333" stroke-width="0.6"/><line x1="590.35" y1="484.5" x2="596.35" y2="484.5" stroke="#222" stroke-width="0.8"/><circle cx="593.35" cy="484.5" r="1.9" fill="#000"/><text transform="translate(600.05,486.5) scale(0.9091,1)" font-size="4.79" fill="#111" stroke="#111" stroke-width="0.1">post-ATLG</text><line x1="626.65" y1="481.2" x2="626.65" y2="487.8" stroke="#222" stroke-width="0.8"/><rect x="623.65" y="482.3" width="6" height="4.4" fill="#66D9DC" stroke="#333" stroke-width="0.6"/><line x1="623.65" y1="484.5" x2="629.65" y2="484.5" stroke="#222" stroke-width="0.8"/><circle cx="626.65" cy="484.5" r="1.9" fill="#000"/><text transform="translate(633.35,486.5) scale(0.9091,1)" font-size="4.79" fill="#111" stroke="#111" stroke-width="0.1">pre-ATLG</text><line x1="657.5" y1="481.2" x2="657.5" y2="487.8" stroke="#222" stroke-width="0.8"/><rect x="654.5" y="482.3" width="6" height="4.4" fill="#DDB0FF" stroke="#333" stroke-width="0.6"/><line x1="654.5" y1="484.5" x2="660.5" y2="484.5" stroke="#222" stroke-width="0.8"/><circle cx="657.5" cy="484.5" r="1.9" fill="#000"/><text transform="translate(664.35,486.5) scale(0.9091,1)" font-size="4.79" fill="#111" stroke="#111" stroke-width="0.1">pre-Thymo</text></g></svg>
</body></html>
